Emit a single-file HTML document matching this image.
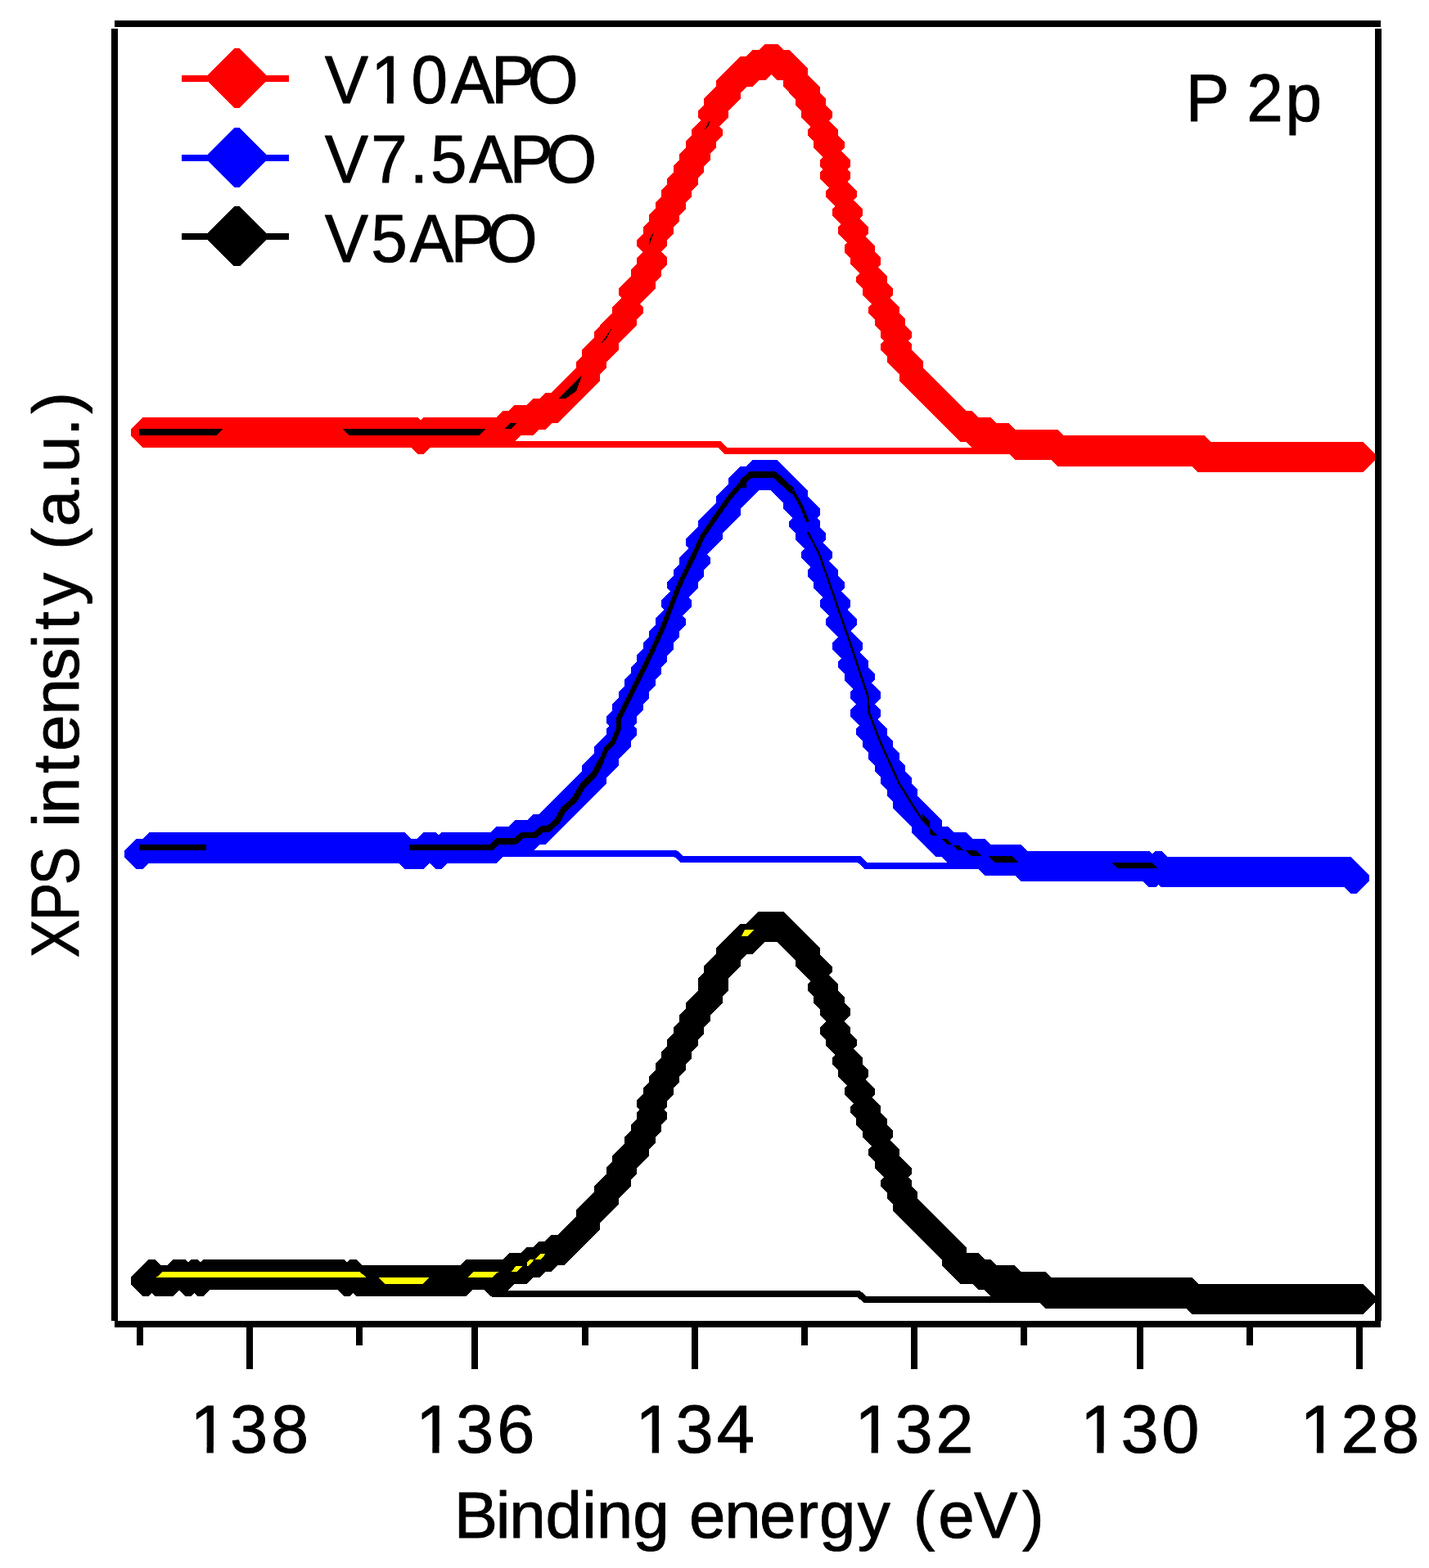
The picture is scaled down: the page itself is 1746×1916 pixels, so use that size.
<!DOCTYPE html>
<html lang="en"><head><meta charset="utf-8"><title>P 2p XPS spectra</title>
<style>html,body{margin:0;padding:0;background:#fff}body{width:1746px;height:1916px;overflow:hidden}svg{display:block}</style></head>
<body>
<svg width="1746" height="1916" viewBox="0 0 1746 1916" shape-rendering="crispEdges" role="img" aria-label="P 2p XPS spectra">
<rect x="0" y="0" width="1746" height="1916" fill="#fff"/>
<polyline points="587,543.3 879,543.3 887,551.2 1235,551.2" fill="none" stroke="#f00" stroke-width="8" stroke-linejoin="miter"/>
<polyline points="600,1042.7 825,1042.7 834,1050.4 1050,1050.4 1058,1058.1 1260,1058.1" fill="none" stroke="#00f" stroke-width="8" stroke-linejoin="miter"/>
<polyline points="601,1580.8 1049,1580.8 1057,1588 1290,1588" fill="none" stroke="#000" stroke-width="8" stroke-linejoin="miter"/>
<path d="M174.46 509.86L182.06 509.86L196.91 524.71L196.91 532.31L182.06 547.16L174.46 547.16L159.61 532.31L159.61 524.71ZM181.91 509.86L189.51 509.86L204.36 524.71L204.36 532.31L189.51 547.16L181.91 547.16L167.06 532.31L167.06 524.71ZM189.36 509.86L196.97 509.86L211.81 524.71L211.81 532.31L196.97 547.16L189.36 547.16L174.51 532.31L174.51 524.71ZM196.82 509.86L204.42 509.86L219.27 524.71L219.27 532.31L204.42 547.16L196.82 547.16L181.97 532.31L181.97 524.71ZM204.27 509.86L211.87 509.86L226.72 524.71L226.72 532.31L211.87 547.16L204.27 547.16L189.42 532.31L189.42 524.71ZM211.72 509.86L219.32 509.86L234.17 524.71L234.17 532.31L219.32 547.16L211.72 547.16L196.87 532.31L196.87 524.71ZM219.17 509.86L226.78 509.86L241.62 524.71L241.62 532.31L226.78 547.16L219.17 547.16L204.32 532.31L204.32 524.71ZM226.63 509.86L234.23 509.86L249.08 524.71L249.08 532.31L234.23 547.16L226.63 547.16L211.78 532.31L211.78 524.71ZM234.08 509.86L241.68 509.86L256.53 524.71L256.53 532.31L241.68 547.16L234.08 547.16L219.23 532.31L219.23 524.71ZM241.53 509.86L249.13 509.86L263.98 524.71L263.98 532.31L249.13 547.16L241.53 547.16L226.68 532.31L226.68 524.71ZM248.98 509.86L256.58 509.86L271.44 524.71L271.44 532.31L256.58 547.16L248.98 547.16L234.13 532.31L234.13 524.71ZM256.44 509.86L264.04 509.86L278.89 524.71L278.89 532.31L264.04 547.16L256.44 547.16L241.59 532.31L241.59 524.71ZM263.89 509.86L271.49 509.86L286.34 524.71L286.34 532.31L271.49 547.16L263.89 547.16L249.04 532.31L249.04 524.71ZM271.34 509.86L278.94 509.86L293.79 524.71L293.79 532.31L278.94 547.16L271.34 547.16L256.49 532.31L256.49 524.71ZM278.79 509.86L286.39 509.86L301.24 524.71L301.24 532.31L286.39 547.16L278.79 547.16L263.94 532.31L263.94 524.71ZM286.25 509.86L293.85 509.86L308.7 524.71L308.7 532.31L293.85 547.16L286.25 547.16L271.4 532.31L271.4 524.71ZM293.7 509.86L301.3 509.86L316.15 524.71L316.15 532.31L301.3 547.16L293.7 547.16L278.85 532.31L278.85 524.71ZM301.15 509.86L308.75 509.86L323.6 524.71L323.6 532.31L308.75 547.16L301.15 547.16L286.3 532.31L286.3 524.71ZM308.6 509.86L316.2 509.86L331.05 524.71L331.05 532.31L316.2 547.16L308.6 547.16L293.75 532.31L293.75 524.71ZM316.06 509.86L323.66 509.86L338.51 524.71L338.51 532.31L323.66 547.16L316.06 547.16L301.21 532.31L301.21 524.71ZM323.51 509.86L331.11 509.86L345.96 524.71L345.96 532.31L331.11 547.16L323.51 547.16L308.66 532.31L308.66 524.71ZM330.96 509.86L338.56 509.86L353.41 524.71L353.41 532.31L338.56 547.16L330.96 547.16L316.11 532.31L316.11 524.71ZM338.41 509.86L346.01 509.86L360.86 524.71L360.86 532.31L346.01 547.16L338.41 547.16L323.56 532.31L323.56 524.71ZM345.87 509.86L353.47 509.86L368.32 524.71L368.32 532.31L353.47 547.16L345.87 547.16L331.02 532.31L331.02 524.71ZM353.32 509.86L360.92 509.86L375.77 524.71L375.77 532.31L360.92 547.16L353.32 547.16L338.47 532.31L338.47 524.71ZM360.77 509.86L368.37 509.86L383.22 524.71L383.22 532.31L368.37 547.16L360.77 547.16L345.92 532.31L345.92 524.71ZM368.22 509.86L375.82 509.86L390.67 524.71L390.67 532.31L375.82 547.16L368.22 547.16L353.38 532.31L353.38 524.71ZM375.68 509.86L383.28 509.86L398.13 524.71L398.13 532.31L383.28 547.16L375.68 547.16L360.83 532.31L360.83 524.71ZM383.13 509.86L390.73 509.86L405.58 524.71L405.58 532.31L390.73 547.16L383.13 547.16L368.28 532.31L368.28 524.71ZM390.58 509.86L398.18 509.86L413.03 524.71L413.03 532.31L398.18 547.16L390.58 547.16L375.73 532.31L375.73 524.71ZM398.03 509.86L405.63 509.86L420.48 524.71L420.48 532.31L405.63 547.16L398.03 547.16L383.19 532.31L383.19 524.71ZM405.49 509.86L413.09 509.86L427.94 524.71L427.94 532.31L413.09 547.16L405.49 547.16L390.64 532.31L390.64 524.71ZM412.94 509.86L420.54 509.86L435.39 524.71L435.39 532.31L420.54 547.16L412.94 547.16L398.09 532.31L398.09 524.71ZM420.39 509.86L427.99 509.86L442.84 524.71L442.84 532.31L427.99 547.16L420.39 547.16L405.54 532.31L405.54 524.71ZM427.84 509.86L435.44 509.86L450.29 524.71L450.29 532.31L435.44 547.16L427.84 547.16L413 532.31L413 524.71ZM435.3 509.86L442.9 509.86L457.75 524.71L457.75 532.31L442.9 547.16L435.3 547.16L420.45 532.31L420.45 524.71ZM442.75 509.86L450.35 509.86L465.2 524.71L465.2 532.31L450.35 547.16L442.75 547.16L427.9 532.31L427.9 524.71ZM450.2 509.86L457.8 509.86L472.65 524.71L472.65 532.31L457.8 547.16L450.2 547.16L435.35 532.31L435.35 524.71ZM457.65 509.86L465.25 509.86L480.1 524.71L480.1 532.31L465.25 547.16L457.65 547.16L442.81 532.31L442.81 524.71ZM465.11 509.86L472.71 509.86L487.56 524.71L487.56 532.31L472.71 547.16L465.11 547.16L450.26 532.31L450.26 524.71ZM472.56 509.86L480.16 509.86L495.01 524.71L495.01 532.31L480.16 547.16L472.56 547.16L457.71 532.31L457.71 524.71ZM480.01 509.86L487.61 509.86L502.46 524.71L502.46 532.31L487.61 547.16L480.01 547.16L465.16 532.31L465.16 524.71ZM487.46 509.86L495.06 509.86L509.91 524.71L509.91 532.31L495.06 547.16L487.46 547.16L472.61 532.31L472.61 524.71ZM494.92 509.86L502.52 509.86L517.37 524.71L517.37 532.31L502.52 547.16L494.92 547.16L480.07 532.31L480.07 524.71ZM502.37 509.86L509.97 509.86L524.82 524.71L524.82 532.31L509.97 547.16L502.37 547.16L487.52 532.31L487.52 524.71ZM509.82 517.32L517.42 517.32L532.27 532.17L532.27 539.77L517.42 554.62L509.82 554.62L494.97 539.77L494.97 532.17ZM517.27 509.86L524.87 509.86L539.72 524.71L539.72 532.31L524.87 547.16L517.27 547.16L502.42 532.31L502.42 524.71ZM524.73 509.86L532.33 509.86L547.18 524.71L547.18 532.31L532.33 547.16L524.73 547.16L509.88 532.31L509.88 524.71ZM532.18 509.86L539.78 509.86L554.63 524.71L554.63 532.31L539.78 547.16L532.18 547.16L517.33 532.31L517.33 524.71ZM539.63 509.86L547.23 509.86L562.08 524.71L562.08 532.31L547.23 547.16L539.63 547.16L524.78 532.31L524.78 524.71ZM547.09 509.86L554.68 509.86L569.53 524.71L569.53 532.31L554.68 547.16L547.09 547.16L532.24 532.31L532.24 524.71ZM554.54 509.86L562.14 509.86L576.99 524.71L576.99 532.31L562.14 547.16L554.54 547.16L539.69 532.31L539.69 524.71ZM561.99 509.86L569.59 509.86L584.44 524.71L584.44 532.31L569.59 547.16L561.99 547.16L547.14 532.31L547.14 524.71ZM569.44 509.86L577.04 509.86L591.89 524.71L591.89 532.31L577.04 547.16L569.44 547.16L554.59 532.31L554.59 524.71ZM576.89 509.86L584.49 509.86L599.34 524.71L599.34 532.31L584.49 547.16L576.89 547.16L562.04 532.31L562.04 524.71ZM584.35 509.86L591.95 509.86L606.8 524.71L606.8 532.31L591.95 547.16L584.35 547.16L569.5 532.31L569.5 524.71ZM591.8 509.86L599.4 509.86L614.25 524.71L614.25 532.31L599.4 547.16L591.8 547.16L576.95 532.31L576.95 524.71ZM599.25 509.86L606.85 509.86L621.7 524.71L621.7 532.31L606.85 547.16L599.25 547.16L584.4 532.31L584.4 524.71ZM606.71 509.86L614.3 509.86L629.15 524.71L629.15 532.31L614.3 547.16L606.71 547.16L591.86 532.31L591.86 524.71ZM614.16 502.38L621.76 502.38L636.61 517.23L636.61 524.83L621.76 539.68L614.16 539.68L599.31 524.83L599.31 517.23ZM621.61 502.38L629.21 502.38L644.06 517.23L644.06 524.83L629.21 539.68L621.61 539.68L606.76 524.83L606.76 517.23ZM629.06 494.9L636.66 494.9L651.51 509.75L651.51 517.35L636.66 532.2L629.06 532.2L614.21 517.35L614.21 509.75ZM636.51 494.9L644.11 494.9L658.96 509.75L658.96 517.35L644.11 532.2L636.51 532.2L621.66 517.35L621.66 509.75ZM643.97 494.9L651.57 494.9L666.42 509.75L666.42 517.35L651.57 532.2L643.97 532.2L629.12 517.35L629.12 509.75ZM651.42 487.42L659.02 487.42L673.87 502.27L673.87 509.87L659.02 524.72L651.42 524.72L636.57 509.87L636.57 502.27ZM658.87 487.42L666.47 487.42L681.32 502.27L681.32 509.87L666.47 524.72L658.87 524.72L644.02 509.87L644.02 502.27ZM666.33 479.94L673.92 479.94L688.77 494.79L688.77 502.39L673.92 517.24L666.33 517.24L651.48 502.39L651.48 494.79ZM673.78 479.94L681.38 479.94L696.23 494.79L696.23 502.39L681.38 517.24L673.78 517.24L658.93 502.39L658.93 494.79ZM681.23 472.46L688.83 472.46L703.68 487.31L703.68 494.91L688.83 509.76L681.23 509.76L666.38 494.91L666.38 487.31ZM688.68 464.98L696.28 464.98L711.13 479.83L711.13 487.43L696.28 502.28L688.68 502.28L673.83 487.43L673.83 479.83ZM696.13 457.51L703.73 457.51L718.58 472.36L718.58 479.96L703.73 494.81L696.13 494.81L681.28 479.96L681.28 472.36ZM703.59 450.03L711.19 450.03L726.04 464.88L726.04 472.48L711.19 487.33L703.59 487.33L688.74 472.48L688.74 464.88ZM711.04 442.55L718.64 442.55L733.49 457.4L733.49 465L718.64 479.85L711.04 479.85L696.19 465L696.19 457.4ZM718.49 427.59L726.09 427.59L740.94 442.44L740.94 450.04L726.09 464.89L718.49 464.89L703.64 450.04L703.64 442.44ZM725.94 412.63L733.54 412.63L748.39 427.48L748.39 435.08L733.54 449.93L725.94 449.93L711.09 435.08L711.09 427.48ZM733.4 405.15L741 405.15L755.85 420L755.85 427.6L741 442.45L733.4 442.45L718.55 427.6L718.55 420ZM740.85 390.2L748.45 390.2L763.3 405.05L763.3 412.65L748.45 427.5L740.85 427.5L726 412.65L726 405.05ZM748.3 382.72L755.9 382.72L770.75 397.57L770.75 405.17L755.9 420.02L748.3 420.02L733.45 405.17L733.45 397.57ZM755.75 375.24L763.35 375.24L778.2 390.09L778.2 397.69L763.35 412.54L755.75 412.54L740.9 397.69L740.9 390.09ZM763.21 360.28L770.81 360.28L785.66 375.13L785.66 382.73L770.81 397.58L763.21 397.58L748.36 382.73L748.36 375.13ZM770.66 337.84L778.26 337.84L793.11 352.69L793.11 360.29L778.26 375.14L770.66 375.14L755.81 360.29L755.81 352.69ZM778.11 330.36L785.71 330.36L800.56 345.21L800.56 352.81L785.71 367.66L778.11 367.66L763.26 352.81L763.26 345.21ZM785.56 315.41L793.16 315.41L808.01 330.26L808.01 337.86L793.16 352.71L785.56 352.71L770.71 337.86L770.71 330.26ZM793.02 300.45L800.62 300.45L815.47 315.3L815.47 322.9L800.62 337.75L793.02 337.75L778.17 322.9L778.17 315.3ZM793.02 278.01L800.62 278.01L815.47 292.86L815.47 300.46L800.62 315.31L793.02 315.31L778.17 300.46L778.17 292.86ZM800.47 263.05L808.07 263.05L822.92 277.9L822.92 285.5L808.07 300.35L800.47 300.35L785.62 285.5L785.62 277.9ZM807.92 248.1L815.52 248.1L830.37 262.95L830.37 270.55L815.52 285.4L807.92 285.4L793.07 270.55L793.07 262.95ZM815.38 233.14L822.97 233.14L837.82 247.99L837.82 255.59L822.97 270.44L815.38 270.44L800.52 255.59L800.52 247.99ZM822.83 218.18L830.43 218.18L845.28 233.03L845.28 240.63L830.43 255.48L822.83 255.48L807.98 240.63L807.98 233.03ZM830.28 203.22L837.88 203.22L852.73 218.07L852.73 225.67L837.88 240.52L830.28 240.52L815.43 225.67L815.43 218.07ZM837.73 188.27L845.33 188.27L860.18 203.12L860.18 210.72L845.33 225.57L837.73 225.57L822.88 210.72L822.88 203.12ZM845.18 173.31L852.78 173.31L867.63 188.16L867.63 195.76L852.78 210.61L845.18 210.61L830.33 195.76L830.33 188.16ZM852.64 158.35L860.24 158.35L875.09 173.2L875.09 180.8L860.24 195.65L852.64 195.65L837.79 180.8L837.79 173.2ZM860.09 143.39L867.69 143.39L882.54 158.24L882.54 165.84L867.69 180.69L860.09 180.69L845.24 165.84L845.24 158.24ZM867.54 120.96L875.14 120.96L889.99 135.81L889.99 143.41L875.14 158.26L867.54 158.26L852.69 143.41L852.69 135.81ZM875 106L882.59 106L897.44 120.85L897.44 128.45L882.59 143.3L875 143.3L860.14 128.45L860.14 120.85ZM882.45 98.52L890.05 98.52L904.9 113.37L904.9 120.97L890.05 135.82L882.45 135.82L867.6 120.97L867.6 113.37ZM889.9 83.56L897.5 83.56L912.35 98.41L912.35 106.01L897.5 120.86L889.9 120.86L875.05 106.01L875.05 98.41ZM897.35 76.08L904.95 76.08L919.8 90.93L919.8 98.53L904.95 113.38L897.35 113.38L882.5 98.53L882.5 90.93ZM904.8 68.6L912.4 68.6L927.25 83.45L927.25 91.05L912.4 105.9L904.8 105.9L889.95 91.05L889.95 83.45ZM912.26 68.6L919.86 68.6L934.71 83.45L934.71 91.05L919.86 105.9L912.26 105.9L897.41 91.05L897.41 83.45ZM919.71 61.12L927.31 61.12L942.16 75.97L942.16 83.57L927.31 98.42L919.71 98.42L904.86 83.57L904.86 75.97ZM927.16 61.12L934.76 61.12L949.61 75.97L949.61 83.57L934.76 98.42L927.16 98.42L912.31 83.57L912.31 75.97ZM934.62 53.65L942.21 53.65L957.06 68.5L957.06 76.09L942.21 90.94L934.62 90.94L919.76 76.09L919.76 68.5ZM942.07 53.65L949.67 53.65L964.52 68.5L964.52 76.09L949.67 90.94L942.07 90.94L927.22 76.09L927.22 68.5ZM949.52 61.12L957.12 61.12L971.97 75.97L971.97 83.57L957.12 98.42L949.52 98.42L934.67 83.57L934.67 75.97ZM956.97 61.12L964.57 61.12L979.42 75.97L979.42 83.57L964.57 98.42L956.97 98.42L942.12 83.57L942.12 75.97ZM964.42 68.6L972.02 68.6L986.87 83.45L986.87 91.05L972.02 105.9L964.42 105.9L949.57 91.05L949.57 83.45ZM971.88 83.56L979.48 83.56L994.33 98.41L994.33 106.01L979.48 120.86L971.88 120.86L957.03 106.01L957.03 98.41ZM979.33 91.04L986.93 91.04L1001.78 105.89L1001.78 113.49L986.93 128.34L979.33 128.34L964.48 113.49L964.48 105.89ZM986.78 106L994.38 106L1009.23 120.85L1009.23 128.45L994.38 143.3L986.78 143.3L971.93 128.45L971.93 120.85ZM994.24 120.96L1001.83 120.96L1016.68 135.81L1016.68 143.41L1001.83 158.26L994.24 158.26L979.38 143.41L979.38 135.81ZM1001.69 143.39L1009.29 143.39L1024.14 158.24L1024.14 165.84L1009.29 180.69L1001.69 180.69L986.84 165.84L986.84 158.24ZM1009.14 158.35L1016.74 158.35L1031.59 173.2L1031.59 180.8L1016.74 195.65L1009.14 195.65L994.29 180.8L994.29 173.2ZM1016.59 180.79L1024.19 180.79L1039.04 195.64L1039.04 203.24L1024.19 218.09L1016.59 218.09L1001.74 203.24L1001.74 195.64ZM1016.59 195.74L1024.19 195.74L1039.04 210.59L1039.04 218.19L1024.19 233.04L1016.59 233.04L1001.74 218.19L1001.74 210.59ZM1024.05 218.18L1031.64 218.18L1046.5 233.03L1046.5 240.63L1031.64 255.48L1024.05 255.48L1009.2 240.63L1009.2 233.03ZM1031.5 240.62L1039.1 240.62L1053.95 255.47L1053.95 263.07L1039.1 277.92L1031.5 277.92L1016.65 263.07L1016.65 255.47ZM1038.95 263.05L1046.55 263.05L1061.4 277.9L1061.4 285.5L1046.55 300.35L1038.95 300.35L1024.1 285.5L1024.1 277.9ZM1046.4 285.49L1054 285.49L1068.85 300.34L1068.85 307.94L1054 322.79L1046.4 322.79L1031.55 307.94L1031.55 300.34ZM1053.86 300.45L1061.45 300.45L1076.31 315.3L1076.31 322.9L1061.45 337.75L1053.86 337.75L1039 322.9L1039 315.3ZM1061.31 322.89L1068.91 322.89L1083.76 337.74L1083.76 345.34L1068.91 360.19L1061.31 360.19L1046.46 345.34L1046.46 337.74ZM1068.76 337.84L1076.36 337.84L1091.21 352.69L1091.21 360.29L1076.36 375.14L1068.76 375.14L1053.91 360.29L1053.91 352.69ZM1076.21 360.28L1083.81 360.28L1098.66 375.13L1098.66 382.73L1083.81 397.58L1076.21 397.58L1061.36 382.73L1061.36 375.13ZM1083.67 375.24L1091.27 375.24L1106.12 390.09L1106.12 397.69L1091.27 412.54L1083.67 412.54L1068.82 397.69L1068.82 390.09ZM1091.12 390.2L1098.72 390.2L1113.57 405.05L1113.57 412.65L1098.72 427.5L1091.12 427.5L1076.27 412.65L1076.27 405.05ZM1091.12 405.15L1098.72 405.15L1113.57 420L1113.57 427.6L1098.72 442.45L1091.12 442.45L1076.27 427.6L1076.27 420ZM1098.57 420.11L1106.17 420.11L1121.02 434.96L1121.02 442.56L1106.17 457.41L1098.57 457.41L1083.72 442.56L1083.72 434.96ZM1106.02 427.59L1113.62 427.59L1128.47 442.44L1128.47 450.04L1113.62 464.89L1106.02 464.89L1091.17 450.04L1091.17 442.44ZM1113.48 442.55L1121.08 442.55L1135.93 457.4L1135.93 465L1121.08 479.85L1113.48 479.85L1098.62 465L1098.62 457.4ZM1120.93 450.03L1128.53 450.03L1143.38 464.88L1143.38 472.48L1128.53 487.33L1120.93 487.33L1106.08 472.48L1106.08 464.88ZM1128.38 457.51L1135.98 457.51L1150.83 472.36L1150.83 479.96L1135.98 494.81L1128.38 494.81L1113.53 479.96L1113.53 472.36ZM1135.83 464.98L1143.43 464.98L1158.28 479.83L1158.28 487.43L1143.43 502.28L1135.83 502.28L1120.98 487.43L1120.98 479.83ZM1143.29 472.46L1150.88 472.46L1165.74 487.31L1165.74 494.91L1150.88 509.76L1143.29 509.76L1128.43 494.91L1128.43 487.31ZM1150.74 479.94L1158.34 479.94L1173.19 494.79L1173.19 502.39L1158.34 517.24L1150.74 517.24L1135.89 502.39L1135.89 494.79ZM1158.19 487.42L1165.79 487.42L1180.64 502.27L1180.64 509.87L1165.79 524.72L1158.19 524.72L1143.34 509.87L1143.34 502.27ZM1165.64 494.9L1173.24 494.9L1188.09 509.75L1188.09 517.35L1173.24 532.2L1165.64 532.2L1150.79 517.35L1150.79 509.75ZM1173.1 502.38L1180.69 502.38L1195.55 517.23L1195.55 524.83L1180.69 539.68L1173.1 539.68L1158.24 524.83L1158.24 517.23ZM1180.55 502.38L1188.15 502.38L1203 517.23L1203 524.83L1188.15 539.68L1180.55 539.68L1165.7 524.83L1165.7 517.23ZM1188 509.86L1195.6 509.86L1210.45 524.71L1210.45 532.31L1195.6 547.16L1188 547.16L1173.15 532.31L1173.15 524.71ZM1195.45 509.86L1203.05 509.86L1217.9 524.71L1217.9 532.31L1203.05 547.16L1195.45 547.16L1180.6 532.31L1180.6 524.71ZM1202.9 509.86L1210.5 509.86L1225.36 524.71L1225.36 532.31L1210.5 547.16L1202.9 547.16L1188.05 532.31L1188.05 524.71ZM1210.36 517.32L1217.96 517.32L1232.81 532.17L1232.81 539.77L1217.96 554.62L1210.36 554.62L1195.51 539.77L1195.51 532.17ZM1217.81 517.32L1225.41 517.32L1240.26 532.17L1240.26 539.77L1225.41 554.62L1217.81 554.62L1202.96 539.77L1202.96 532.17ZM1225.26 517.32L1232.86 517.32L1247.71 532.17L1247.71 539.77L1232.86 554.62L1225.26 554.62L1210.41 539.77L1210.41 532.17ZM1240.17 524.78L1247.77 524.78L1262.62 539.63L1262.62 547.23L1247.77 562.08L1240.17 562.08L1225.32 547.23L1225.32 539.63ZM1247.62 524.78L1255.22 524.78L1270.07 539.63L1270.07 547.23L1255.22 562.08L1247.62 562.08L1232.77 547.23L1232.77 539.63ZM1255.07 524.78L1262.67 524.78L1277.52 539.63L1277.52 547.23L1262.67 562.08L1255.07 562.08L1240.22 547.23L1240.22 539.63ZM1262.53 524.78L1270.12 524.78L1284.98 539.63L1284.98 547.23L1270.12 562.08L1262.53 562.08L1247.67 547.23L1247.67 539.63ZM1269.98 524.78L1277.58 524.78L1292.43 539.63L1292.43 547.23L1277.58 562.08L1269.98 562.08L1255.13 547.23L1255.13 539.63ZM1277.43 524.78L1285.03 524.78L1299.88 539.63L1299.88 547.23L1285.03 562.08L1277.43 562.08L1262.58 547.23L1262.58 539.63ZM1284.88 524.78L1292.48 524.78L1307.33 539.63L1307.33 547.23L1292.48 562.08L1284.88 562.08L1270.03 547.23L1270.03 539.63ZM1292.34 532.25L1299.93 532.25L1314.79 547.1L1314.79 554.69L1299.93 569.54L1292.34 569.54L1277.48 554.69L1277.48 547.1ZM1299.79 532.25L1307.39 532.25L1322.24 547.1L1322.24 554.69L1307.39 569.54L1299.79 569.54L1284.94 554.69L1284.94 547.1ZM1307.24 532.25L1314.84 532.25L1329.69 547.1L1329.69 554.69L1314.84 569.54L1307.24 569.54L1292.39 554.69L1292.39 547.1ZM1314.69 532.25L1322.29 532.25L1337.14 547.1L1337.14 554.69L1322.29 569.54L1314.69 569.54L1299.84 554.69L1299.84 547.1ZM1322.14 532.25L1329.74 532.25L1344.6 547.1L1344.6 554.69L1329.74 569.54L1322.14 569.54L1307.29 554.69L1307.29 547.1ZM1329.6 532.25L1337.2 532.25L1352.05 547.1L1352.05 554.69L1337.2 569.54L1329.6 569.54L1314.75 554.69L1314.75 547.1ZM1337.05 532.25L1344.65 532.25L1359.5 547.1L1359.5 554.69L1344.65 569.54L1337.05 569.54L1322.2 554.69L1322.2 547.1ZM1344.5 532.25L1352.1 532.25L1366.95 547.1L1366.95 554.69L1352.1 569.54L1344.5 569.54L1329.65 554.69L1329.65 547.1ZM1351.96 532.25L1359.56 532.25L1374.41 547.1L1374.41 554.69L1359.56 569.54L1351.96 569.54L1337.11 554.69L1337.11 547.1ZM1359.41 532.25L1367.01 532.25L1381.86 547.1L1381.86 554.69L1367.01 569.54L1359.41 569.54L1344.56 554.69L1344.56 547.1ZM1366.86 532.25L1374.46 532.25L1389.31 547.1L1389.31 554.69L1374.46 569.54L1366.86 569.54L1352.01 554.69L1352.01 547.1ZM1374.31 532.25L1381.91 532.25L1396.76 547.1L1396.76 554.69L1381.91 569.54L1374.31 569.54L1359.46 554.69L1359.46 547.1ZM1381.77 532.25L1389.37 532.25L1404.22 547.1L1404.22 554.69L1389.37 569.54L1381.77 569.54L1366.91 554.69L1366.91 547.1ZM1389.22 532.25L1396.82 532.25L1411.67 547.1L1411.67 554.69L1396.82 569.54L1389.22 569.54L1374.37 554.69L1374.37 547.1ZM1396.67 532.25L1404.27 532.25L1419.12 547.1L1419.12 554.69L1404.27 569.54L1396.67 569.54L1381.82 554.69L1381.82 547.1ZM1404.12 532.25L1411.72 532.25L1426.57 547.1L1426.57 554.69L1411.72 569.54L1404.12 569.54L1389.27 554.69L1389.27 547.1ZM1411.58 532.25L1419.17 532.25L1434.03 547.1L1434.03 554.69L1419.17 569.54L1411.58 569.54L1396.72 554.69L1396.72 547.1ZM1419.03 532.25L1426.63 532.25L1441.48 547.1L1441.48 554.69L1426.63 569.54L1419.03 569.54L1404.18 554.69L1404.18 547.1ZM1426.48 532.25L1434.08 532.25L1448.93 547.1L1448.93 554.69L1434.08 569.54L1426.48 569.54L1411.63 554.69L1411.63 547.1ZM1433.93 532.25L1441.53 532.25L1456.38 547.1L1456.38 554.69L1441.53 569.54L1433.93 569.54L1419.08 554.69L1419.08 547.1ZM1441.38 532.25L1448.98 532.25L1463.84 547.1L1463.84 554.69L1448.98 569.54L1441.38 569.54L1426.53 554.69L1426.53 547.1ZM1448.84 532.25L1456.44 532.25L1471.29 547.1L1471.29 554.69L1456.44 569.54L1448.84 569.54L1433.99 554.69L1433.99 547.1ZM1456.29 532.25L1463.89 532.25L1478.74 547.1L1478.74 554.69L1463.89 569.54L1456.29 569.54L1441.44 554.69L1441.44 547.1ZM1463.74 532.25L1471.34 532.25L1486.19 547.1L1486.19 554.69L1471.34 569.54L1463.74 569.54L1448.89 554.69L1448.89 547.1ZM1463.74 539.71L1471.34 539.71L1486.19 554.56L1486.19 562.16L1471.34 577.01L1463.74 577.01L1448.89 562.16L1448.89 554.56ZM1471.2 539.71L1478.8 539.71L1493.65 554.56L1493.65 562.16L1478.8 577.01L1471.2 577.01L1456.35 562.16L1456.35 554.56ZM1478.65 539.71L1486.25 539.71L1501.1 554.56L1501.1 562.16L1486.25 577.01L1478.65 577.01L1463.8 562.16L1463.8 554.56ZM1486.1 539.71L1493.7 539.71L1508.55 554.56L1508.55 562.16L1493.7 577.01L1486.1 577.01L1471.25 562.16L1471.25 554.56ZM1493.55 539.71L1501.15 539.71L1516 554.56L1516 562.16L1501.15 577.01L1493.55 577.01L1478.7 562.16L1478.7 554.56ZM1501.01 539.71L1508.61 539.71L1523.46 554.56L1523.46 562.16L1508.61 577.01L1501.01 577.01L1486.15 562.16L1486.15 554.56ZM1508.46 539.71L1516.06 539.71L1530.91 554.56L1530.91 562.16L1516.06 577.01L1508.46 577.01L1493.61 562.16L1493.61 554.56ZM1515.91 539.71L1523.51 539.71L1538.36 554.56L1538.36 562.16L1523.51 577.01L1515.91 577.01L1501.06 562.16L1501.06 554.56ZM1523.36 539.71L1530.96 539.71L1545.81 554.56L1545.81 562.16L1530.96 577.01L1523.36 577.01L1508.51 562.16L1508.51 554.56ZM1530.82 539.71L1538.41 539.71L1553.27 554.56L1553.27 562.16L1538.41 577.01L1530.82 577.01L1515.96 562.16L1515.96 554.56ZM1538.27 539.71L1545.87 539.71L1560.72 554.56L1560.72 562.16L1545.87 577.01L1538.27 577.01L1523.42 562.16L1523.42 554.56ZM1545.72 539.71L1553.32 539.71L1568.17 554.56L1568.17 562.16L1553.32 577.01L1545.72 577.01L1530.87 562.16L1530.87 554.56ZM1553.17 539.71L1560.77 539.71L1575.62 554.56L1575.62 562.16L1560.77 577.01L1553.17 577.01L1538.32 562.16L1538.32 554.56ZM1560.62 539.71L1568.22 539.71L1583.08 554.56L1583.08 562.16L1568.22 577.01L1560.62 577.01L1545.77 562.16L1545.77 554.56ZM1568.08 539.71L1575.68 539.71L1590.53 554.56L1590.53 562.16L1575.68 577.01L1568.08 577.01L1553.23 562.16L1553.23 554.56ZM1575.53 539.71L1583.13 539.71L1597.98 554.56L1597.98 562.16L1583.13 577.01L1575.53 577.01L1560.68 562.16L1560.68 554.56ZM1582.98 539.71L1590.58 539.71L1605.43 554.56L1605.43 562.16L1590.58 577.01L1582.98 577.01L1568.13 562.16L1568.13 554.56ZM1590.44 539.71L1598.04 539.71L1612.89 554.56L1612.89 562.16L1598.04 577.01L1590.44 577.01L1575.59 562.16L1575.59 554.56ZM1597.89 539.71L1605.49 539.71L1620.34 554.56L1620.34 562.16L1605.49 577.01L1597.89 577.01L1583.04 562.16L1583.04 554.56ZM1605.34 539.71L1612.94 539.71L1627.79 554.56L1627.79 562.16L1612.94 577.01L1605.34 577.01L1590.49 562.16L1590.49 554.56ZM1612.79 539.71L1620.39 539.71L1635.24 554.56L1635.24 562.16L1620.39 577.01L1612.79 577.01L1597.94 562.16L1597.94 554.56ZM1620.25 539.71L1627.85 539.71L1642.7 554.56L1642.7 562.16L1627.85 577.01L1620.25 577.01L1605.39 562.16L1605.39 554.56ZM1627.7 539.71L1635.3 539.71L1650.15 554.56L1650.15 562.16L1635.3 577.01L1627.7 577.01L1612.85 562.16L1612.85 554.56ZM1635.15 539.71L1642.75 539.71L1657.6 554.56L1657.6 562.16L1642.75 577.01L1635.15 577.01L1620.3 562.16L1620.3 554.56ZM1642.6 539.71L1650.2 539.71L1665.05 554.56L1665.05 562.16L1650.2 577.01L1642.6 577.01L1627.75 562.16L1627.75 554.56ZM1650.06 539.71L1657.65 539.71L1672.51 554.56L1672.51 562.16L1657.65 577.01L1650.06 577.01L1635.2 562.16L1635.2 554.56ZM1657.51 539.71L1665.11 539.71L1679.96 554.56L1679.96 562.16L1665.11 577.01L1657.51 577.01L1642.66 562.16L1642.66 554.56Z" fill="#f00"/>
<path d="M167.01 1024.77L174.61 1024.77L189.46 1039.62L189.46 1047.22L174.61 1062.07L167.01 1062.07L152.16 1047.22L152.16 1039.62ZM181.91 1017.31L189.51 1017.31L204.36 1032.16L204.36 1039.76L189.51 1054.61L181.91 1054.61L167.06 1039.76L167.06 1032.16ZM189.36 1017.31L196.97 1017.31L211.81 1032.16L211.81 1039.76L196.97 1054.61L189.36 1054.61L174.51 1039.76L174.51 1032.16ZM196.82 1017.31L204.42 1017.31L219.27 1032.16L219.27 1039.76L204.42 1054.61L196.82 1054.61L181.97 1039.76L181.97 1032.16ZM204.27 1017.31L211.87 1017.31L226.72 1032.16L226.72 1039.76L211.87 1054.61L204.27 1054.61L189.42 1039.76L189.42 1032.16ZM211.72 1017.31L219.32 1017.31L234.17 1032.16L234.17 1039.76L219.32 1054.61L211.72 1054.61L196.87 1039.76L196.87 1032.16ZM219.17 1017.31L226.78 1017.31L241.62 1032.16L241.62 1039.76L226.78 1054.61L219.17 1054.61L204.32 1039.76L204.32 1032.16ZM226.63 1017.31L234.23 1017.31L249.08 1032.16L249.08 1039.76L234.23 1054.61L226.63 1054.61L211.78 1039.76L211.78 1032.16ZM234.08 1017.31L241.68 1017.31L256.53 1032.16L256.53 1039.76L241.68 1054.61L234.08 1054.61L219.23 1039.76L219.23 1032.16ZM241.53 1017.31L249.13 1017.31L263.98 1032.16L263.98 1039.76L249.13 1054.61L241.53 1054.61L226.68 1039.76L226.68 1032.16ZM248.98 1017.31L256.58 1017.31L271.44 1032.16L271.44 1039.76L256.58 1054.61L248.98 1054.61L234.13 1039.76L234.13 1032.16ZM256.44 1017.31L264.04 1017.31L278.89 1032.16L278.89 1039.76L264.04 1054.61L256.44 1054.61L241.59 1039.76L241.59 1032.16ZM263.89 1017.31L271.49 1017.31L286.34 1032.16L286.34 1039.76L271.49 1054.61L263.89 1054.61L249.04 1039.76L249.04 1032.16ZM271.34 1017.31L278.94 1017.31L293.79 1032.16L293.79 1039.76L278.94 1054.61L271.34 1054.61L256.49 1039.76L256.49 1032.16ZM278.79 1017.31L286.39 1017.31L301.24 1032.16L301.24 1039.76L286.39 1054.61L278.79 1054.61L263.94 1039.76L263.94 1032.16ZM286.25 1017.31L293.85 1017.31L308.7 1032.16L308.7 1039.76L293.85 1054.61L286.25 1054.61L271.4 1039.76L271.4 1032.16ZM293.7 1017.31L301.3 1017.31L316.15 1032.16L316.15 1039.76L301.3 1054.61L293.7 1054.61L278.85 1039.76L278.85 1032.16ZM301.15 1017.31L308.75 1017.31L323.6 1032.16L323.6 1039.76L308.75 1054.61L301.15 1054.61L286.3 1039.76L286.3 1032.16ZM308.6 1017.31L316.2 1017.31L331.05 1032.16L331.05 1039.76L316.2 1054.61L308.6 1054.61L293.75 1039.76L293.75 1032.16ZM316.06 1017.31L323.66 1017.31L338.51 1032.16L338.51 1039.76L323.66 1054.61L316.06 1054.61L301.21 1039.76L301.21 1032.16ZM323.51 1017.31L331.11 1017.31L345.96 1032.16L345.96 1039.76L331.11 1054.61L323.51 1054.61L308.66 1039.76L308.66 1032.16ZM330.96 1017.31L338.56 1017.31L353.41 1032.16L353.41 1039.76L338.56 1054.61L330.96 1054.61L316.11 1039.76L316.11 1032.16ZM338.41 1017.31L346.01 1017.31L360.86 1032.16L360.86 1039.76L346.01 1054.61L338.41 1054.61L323.56 1039.76L323.56 1032.16ZM345.87 1017.31L353.47 1017.31L368.32 1032.16L368.32 1039.76L353.47 1054.61L345.87 1054.61L331.02 1039.76L331.02 1032.16ZM353.32 1017.31L360.92 1017.31L375.77 1032.16L375.77 1039.76L360.92 1054.61L353.32 1054.61L338.47 1039.76L338.47 1032.16ZM360.77 1017.31L368.37 1017.31L383.22 1032.16L383.22 1039.76L368.37 1054.61L360.77 1054.61L345.92 1039.76L345.92 1032.16ZM368.22 1017.31L375.82 1017.31L390.67 1032.16L390.67 1039.76L375.82 1054.61L368.22 1054.61L353.38 1039.76L353.38 1032.16ZM375.68 1017.31L383.28 1017.31L398.13 1032.16L398.13 1039.76L383.28 1054.61L375.68 1054.61L360.83 1039.76L360.83 1032.16ZM383.13 1017.31L390.73 1017.31L405.58 1032.16L405.58 1039.76L390.73 1054.61L383.13 1054.61L368.28 1039.76L368.28 1032.16ZM390.58 1017.31L398.18 1017.31L413.03 1032.16L413.03 1039.76L398.18 1054.61L390.58 1054.61L375.73 1039.76L375.73 1032.16ZM398.03 1017.31L405.63 1017.31L420.48 1032.16L420.48 1039.76L405.63 1054.61L398.03 1054.61L383.19 1039.76L383.19 1032.16ZM405.49 1017.31L413.09 1017.31L427.94 1032.16L427.94 1039.76L413.09 1054.61L405.49 1054.61L390.64 1039.76L390.64 1032.16ZM412.94 1017.31L420.54 1017.31L435.39 1032.16L435.39 1039.76L420.54 1054.61L412.94 1054.61L398.09 1039.76L398.09 1032.16ZM420.39 1017.31L427.99 1017.31L442.84 1032.16L442.84 1039.76L427.99 1054.61L420.39 1054.61L405.54 1039.76L405.54 1032.16ZM427.84 1017.31L435.44 1017.31L450.29 1032.16L450.29 1039.76L435.44 1054.61L427.84 1054.61L413 1039.76L413 1032.16ZM435.3 1017.31L442.9 1017.31L457.75 1032.16L457.75 1039.76L442.9 1054.61L435.3 1054.61L420.45 1039.76L420.45 1032.16ZM442.75 1017.31L450.35 1017.31L465.2 1032.16L465.2 1039.76L450.35 1054.61L442.75 1054.61L427.9 1039.76L427.9 1032.16ZM450.2 1017.31L457.8 1017.31L472.65 1032.16L472.65 1039.76L457.8 1054.61L450.2 1054.61L435.35 1039.76L435.35 1032.16ZM457.65 1017.31L465.25 1017.31L480.1 1032.16L480.1 1039.76L465.25 1054.61L457.65 1054.61L442.81 1039.76L442.81 1032.16ZM465.11 1017.31L472.71 1017.31L487.56 1032.16L487.56 1039.76L472.71 1054.61L465.11 1054.61L450.26 1039.76L450.26 1032.16ZM472.56 1017.31L480.16 1017.31L495.01 1032.16L495.01 1039.76L480.16 1054.61L472.56 1054.61L457.71 1039.76L457.71 1032.16ZM480.01 1017.31L487.61 1017.31L502.46 1032.16L502.46 1039.76L487.61 1054.61L480.01 1054.61L465.16 1039.76L465.16 1032.16ZM487.46 1017.31L495.06 1017.31L509.91 1032.16L509.91 1039.76L495.06 1054.61L487.46 1054.61L472.61 1039.76L472.61 1032.16ZM494.92 1024.77L502.52 1024.77L517.37 1039.62L517.37 1047.22L502.52 1062.07L494.92 1062.07L480.07 1047.22L480.07 1039.62ZM502.37 1024.77L509.97 1024.77L524.82 1039.62L524.82 1047.22L509.97 1062.07L502.37 1062.07L487.52 1047.22L487.52 1039.62ZM509.82 1024.77L517.42 1024.77L532.27 1039.62L532.27 1047.22L517.42 1062.07L509.82 1062.07L494.97 1047.22L494.97 1039.62ZM517.27 1017.31L524.87 1017.31L539.72 1032.16L539.72 1039.76L524.87 1054.61L517.27 1054.61L502.42 1039.76L502.42 1032.16ZM524.73 1017.31L532.33 1017.31L547.18 1032.16L547.18 1039.76L532.33 1054.61L524.73 1054.61L509.88 1039.76L509.88 1032.16ZM532.18 1024.77L539.78 1024.77L554.63 1039.62L554.63 1047.22L539.78 1062.07L532.18 1062.07L517.33 1047.22L517.33 1039.62ZM539.63 1017.31L547.23 1017.31L562.08 1032.16L562.08 1039.76L547.23 1054.61L539.63 1054.61L524.78 1039.76L524.78 1032.16ZM547.09 1017.31L554.68 1017.31L569.53 1032.16L569.53 1039.76L554.68 1054.61L547.09 1054.61L532.24 1039.76L532.24 1032.16ZM554.54 1017.31L562.14 1017.31L576.99 1032.16L576.99 1039.76L562.14 1054.61L554.54 1054.61L539.69 1039.76L539.69 1032.16ZM561.99 1017.31L569.59 1017.31L584.44 1032.16L584.44 1039.76L569.59 1054.61L561.99 1054.61L547.14 1039.76L547.14 1032.16ZM569.44 1017.31L577.04 1017.31L591.89 1032.16L591.89 1039.76L577.04 1054.61L569.44 1054.61L554.59 1039.76L554.59 1032.16ZM576.89 1017.31L584.49 1017.31L599.34 1032.16L599.34 1039.76L584.49 1054.61L576.89 1054.61L562.04 1039.76L562.04 1032.16ZM584.35 1017.31L591.95 1017.31L606.8 1032.16L606.8 1039.76L591.95 1054.61L584.35 1054.61L569.5 1039.76L569.5 1032.16ZM591.8 1017.31L599.4 1017.31L614.25 1032.16L614.25 1039.76L599.4 1054.61L591.8 1054.61L576.95 1039.76L576.95 1032.16ZM599.25 1017.31L606.85 1017.31L621.7 1032.16L621.7 1039.76L606.85 1054.61L599.25 1054.61L584.4 1039.76L584.4 1032.16ZM606.71 1009.85L614.3 1009.85L629.15 1024.7L629.15 1032.3L614.3 1047.15L606.71 1047.15L591.86 1032.3L591.86 1024.7ZM614.16 1009.85L621.76 1009.85L636.61 1024.7L636.61 1032.3L621.76 1047.15L614.16 1047.15L599.31 1032.3L599.31 1024.7ZM621.61 1009.85L629.21 1009.85L644.06 1024.7L644.06 1032.3L629.21 1047.15L621.61 1047.15L606.76 1032.3L606.76 1024.7ZM629.06 1002.38L636.66 1002.38L651.51 1017.23L651.51 1024.83L636.66 1039.68L629.06 1039.68L614.21 1024.83L614.21 1017.23ZM636.51 1002.38L644.11 1002.38L658.96 1017.23L658.96 1024.83L644.11 1039.68L636.51 1039.68L621.66 1024.83L621.66 1017.23ZM643.97 1002.38L651.57 1002.38L666.42 1017.23L666.42 1024.83L651.57 1039.68L643.97 1039.68L629.12 1024.83L629.12 1017.23ZM651.42 994.92L659.02 994.92L673.87 1009.77L673.87 1017.37L659.02 1032.22L651.42 1032.22L636.57 1017.37L636.57 1009.77ZM658.87 994.92L666.47 994.92L681.32 1009.77L681.32 1017.37L666.47 1032.22L658.87 1032.22L644.02 1017.37L644.02 1009.77ZM666.33 987.46L673.92 987.46L688.77 1002.31L688.77 1009.91L673.92 1024.76L666.33 1024.76L651.48 1009.91L651.48 1002.31ZM673.78 980L681.38 980L696.23 994.85L696.23 1002.44L681.38 1017.29L673.78 1017.29L658.93 1002.44L658.93 994.85ZM681.23 972.53L688.83 972.53L703.68 987.38L703.68 994.98L688.83 1009.83L681.23 1009.83L666.38 994.98L666.38 987.38ZM688.68 965.07L696.28 965.07L711.13 979.92L711.13 987.52L696.28 1002.37L688.68 1002.37L673.83 987.52L673.83 979.92ZM696.13 957.61L703.73 957.61L718.58 972.46L718.58 980.06L703.73 994.91L696.13 994.91L681.28 980.06L681.28 972.46ZM703.59 950.14L711.19 950.14L726.04 965L726.04 972.59L711.19 987.44L703.59 987.44L688.74 972.59L688.74 965ZM711.04 942.68L718.64 942.68L733.49 957.53L733.49 965.13L718.64 979.98L711.04 979.98L696.19 965.13L696.19 957.53ZM718.49 935.22L726.09 935.22L740.94 950.07L740.94 957.67L726.09 972.52L718.49 972.52L703.64 957.67L703.64 950.07ZM725.94 920.3L733.54 920.3L748.39 935.15L748.39 942.75L733.54 957.6L725.94 957.6L711.09 942.75L711.09 935.15ZM733.4 912.83L741 912.83L755.85 927.68L755.85 935.28L741 950.13L733.4 950.13L718.55 935.28L718.55 927.68ZM740.85 897.91L748.45 897.91L763.3 912.76L763.3 920.36L748.45 935.21L740.85 935.21L726 920.36L726 912.76ZM748.3 890.45L755.9 890.45L770.75 905.3L770.75 912.89L755.9 927.75L748.3 927.75L733.45 912.89L733.45 905.3ZM755.75 875.52L763.35 875.52L778.2 890.37L778.2 897.97L763.35 912.82L755.75 912.82L740.9 897.97L740.9 890.37ZM755.75 860.6L763.35 860.6L778.2 875.45L778.2 883.04L763.35 897.89L755.75 897.89L740.9 883.04L740.9 875.45ZM763.21 845.67L770.81 845.67L785.66 860.52L785.66 868.12L770.81 882.97L763.21 882.97L748.36 868.12L748.36 860.52ZM770.66 830.75L778.26 830.75L793.11 845.6L793.11 853.19L778.26 868.04L770.66 868.04L755.81 853.19L755.81 845.6ZM778.11 815.82L785.71 815.82L800.56 830.67L800.56 838.27L785.71 853.12L778.11 853.12L763.26 838.27L763.26 830.67ZM785.56 800.89L793.16 800.89L808.01 815.75L808.01 823.34L793.16 838.19L785.56 838.19L770.71 823.34L770.71 815.75ZM793.02 785.97L800.62 785.97L815.47 800.82L815.47 808.42L800.62 823.27L793.02 823.27L778.17 808.42L778.17 800.82ZM800.47 771.05L808.07 771.05L822.92 785.9L822.92 793.5L808.07 808.35L800.47 808.35L785.62 793.5L785.62 785.9ZM807.92 756.12L815.52 756.12L830.37 770.97L830.37 778.57L815.52 793.42L807.92 793.42L793.07 778.57L793.07 770.97ZM815.38 741.2L822.97 741.2L837.82 756.05L837.82 763.64L822.97 778.5L815.38 778.5L800.52 763.64L800.52 756.05ZM822.83 718.81L830.43 718.81L845.28 733.66L845.28 741.26L830.43 756.11L822.83 756.11L807.98 741.26L807.98 733.66ZM830.28 696.42L837.88 696.42L852.73 711.27L852.73 718.87L837.88 733.72L830.28 733.72L815.43 718.87L815.43 711.27ZM837.73 681.5L845.33 681.5L860.18 696.35L860.18 703.94L845.33 718.79L837.73 718.79L822.88 703.94L822.88 696.35ZM845.18 666.57L852.78 666.57L867.63 681.42L867.63 689.02L852.78 703.87L845.18 703.87L830.33 689.02L830.33 681.42ZM852.64 644.18L860.24 644.18L875.09 659.03L875.09 666.63L860.24 681.48L852.64 681.48L837.79 666.63L837.79 659.03ZM860.09 636.72L867.69 636.72L882.54 651.57L882.54 659.17L867.69 674.02L860.09 674.02L845.24 659.17L845.24 651.57ZM867.54 621.79L875.14 621.79L889.99 636.64L889.99 644.24L875.14 659.09L867.54 659.09L852.69 644.24L852.69 636.64ZM875 614.33L882.59 614.33L897.44 629.18L897.44 636.78L882.59 651.63L875 651.63L860.14 636.78L860.14 629.18ZM882.45 606.87L890.05 606.87L904.9 621.72L904.9 629.32L890.05 644.17L882.45 644.17L867.6 629.32L867.6 621.72ZM889.9 591.95L897.5 591.95L912.35 606.8L912.35 614.39L897.5 629.25L889.9 629.25L875.05 614.39L875.05 606.8ZM897.35 584.48L904.95 584.48L919.8 599.33L919.8 606.93L904.95 621.78L897.35 621.78L882.5 606.93L882.5 599.33ZM904.8 569.56L912.4 569.56L927.25 584.41L927.25 592.01L912.4 606.86L904.8 606.86L889.95 592.01L889.95 584.41ZM912.26 569.56L919.86 569.56L934.71 584.41L934.71 592.01L919.86 606.86L912.26 606.86L897.41 592.01L897.41 584.41ZM919.71 562.1L927.31 562.1L942.16 576.95L942.16 584.54L927.31 599.39L919.71 599.39L904.86 584.54L904.86 576.95ZM927.16 562.1L934.76 562.1L949.61 576.95L949.61 584.54L934.76 599.39L927.16 599.39L912.31 584.54L912.31 576.95ZM934.62 562.1L942.21 562.1L957.06 576.95L957.06 584.54L942.21 599.39L934.62 599.39L919.76 584.54L919.76 576.95ZM942.07 562.1L949.67 562.1L964.52 576.95L964.52 584.54L949.67 599.39L942.07 599.39L927.22 584.54L927.22 576.95ZM949.52 569.56L957.12 569.56L971.97 584.41L971.97 592.01L957.12 606.86L949.52 606.86L934.67 592.01L934.67 584.41ZM956.97 577.02L964.57 577.02L979.42 591.87L979.42 599.47L964.57 614.32L956.97 614.32L942.12 599.47L942.12 591.87ZM964.42 584.48L972.02 584.48L986.87 599.33L986.87 606.93L972.02 621.78L964.42 621.78L949.57 606.93L949.57 599.33ZM971.88 599.41L979.48 599.41L994.33 614.26L994.33 621.86L979.48 636.71L971.88 636.71L957.03 621.86L957.03 614.26ZM979.33 606.87L986.93 606.87L1001.78 621.72L1001.78 629.32L986.93 644.17L979.33 644.17L964.48 629.32L964.48 621.72ZM979.33 621.79L986.93 621.79L1001.78 636.64L1001.78 644.24L986.93 659.09L979.33 659.09L964.48 644.24L964.48 636.64ZM986.78 636.72L994.38 636.72L1009.23 651.57L1009.23 659.17L994.38 674.02L986.78 674.02L971.93 659.17L971.93 651.57ZM994.24 659.11L1001.83 659.11L1016.68 673.96L1016.68 681.56L1001.83 696.41L994.24 696.41L979.38 681.56L979.38 673.96ZM1001.69 681.5L1009.29 681.5L1024.14 696.35L1024.14 703.94L1009.29 718.79L1001.69 718.79L986.84 703.94L986.84 696.35ZM1009.14 696.42L1016.74 696.42L1031.59 711.27L1031.59 718.87L1016.74 733.72L1009.14 733.72L994.29 718.87L994.29 711.27ZM1016.59 718.81L1024.19 718.81L1039.04 733.66L1039.04 741.26L1024.19 756.11L1016.59 756.11L1001.74 741.26L1001.74 733.66ZM1024.05 741.2L1031.64 741.2L1046.5 756.05L1046.5 763.64L1031.64 778.5L1024.05 778.5L1009.2 763.64L1009.2 756.05ZM1031.5 771.05L1039.1 771.05L1053.95 785.9L1053.95 793.5L1039.1 808.35L1031.5 808.35L1016.65 793.5L1016.65 785.9ZM1038.95 793.43L1046.55 793.43L1061.4 808.28L1061.4 815.88L1046.55 830.73L1038.95 830.73L1024.1 815.88L1024.1 808.28ZM1046.4 808.36L1054 808.36L1068.85 823.21L1068.85 830.81L1054 845.66L1046.4 845.66L1031.55 830.81L1031.55 823.21ZM1053.86 830.75L1061.45 830.75L1076.31 845.6L1076.31 853.19L1061.45 868.04L1053.86 868.04L1039 853.19L1039 845.6ZM1053.86 853.13L1061.45 853.13L1076.31 867.98L1076.31 875.58L1061.45 890.43L1053.86 890.43L1039 875.58L1039 867.98ZM1061.31 875.52L1068.91 875.52L1083.76 890.37L1083.76 897.97L1068.91 912.82L1061.31 912.82L1046.46 897.97L1046.46 890.37ZM1068.76 890.45L1076.36 890.45L1091.21 905.3L1091.21 912.89L1076.36 927.75L1068.76 927.75L1053.91 912.89L1053.91 905.3ZM1076.21 905.37L1083.81 905.37L1098.66 920.22L1098.66 927.82L1083.81 942.67L1076.21 942.67L1061.36 927.82L1061.36 920.22ZM1083.67 920.3L1091.27 920.3L1106.12 935.15L1106.12 942.75L1091.27 957.6L1083.67 957.6L1068.82 942.75L1068.82 935.15ZM1091.12 935.22L1098.72 935.22L1113.57 950.07L1113.57 957.67L1098.72 972.52L1091.12 972.52L1076.27 957.67L1076.27 950.07ZM1098.57 950.14L1106.17 950.14L1121.02 965L1121.02 972.59L1106.17 987.44L1098.57 987.44L1083.72 972.59L1083.72 965ZM1106.02 965.07L1113.62 965.07L1128.47 979.92L1128.47 987.52L1113.62 1002.37L1106.02 1002.37L1091.17 987.52L1091.17 979.92ZM1113.48 972.53L1121.08 972.53L1135.93 987.38L1135.93 994.98L1121.08 1009.83L1113.48 1009.83L1098.62 994.98L1098.62 987.38ZM1120.93 980L1128.53 980L1143.38 994.85L1143.38 1002.44L1128.53 1017.29L1120.93 1017.29L1106.08 1002.44L1106.08 994.85ZM1128.38 987.46L1135.98 987.46L1150.83 1002.31L1150.83 1009.91L1135.98 1024.76L1128.38 1024.76L1113.53 1009.91L1113.53 1002.31ZM1128.38 994.92L1135.98 994.92L1150.83 1009.77L1150.83 1017.37L1135.98 1032.22L1128.38 1032.22L1113.53 1017.37L1113.53 1009.77ZM1135.83 1002.38L1143.43 1002.38L1158.28 1017.23L1158.28 1024.83L1143.43 1039.68L1135.83 1039.68L1120.98 1024.83L1120.98 1017.23ZM1143.29 1009.85L1150.88 1009.85L1165.74 1024.7L1165.74 1032.3L1150.88 1047.15L1143.29 1047.15L1128.43 1032.3L1128.43 1024.7ZM1150.74 1009.85L1158.34 1009.85L1173.19 1024.7L1173.19 1032.3L1158.34 1047.15L1150.74 1047.15L1135.89 1032.3L1135.89 1024.7ZM1158.19 1017.31L1165.79 1017.31L1180.64 1032.16L1180.64 1039.76L1165.79 1054.61L1158.19 1054.61L1143.34 1039.76L1143.34 1032.16ZM1165.64 1017.31L1173.24 1017.31L1188.09 1032.16L1188.09 1039.76L1173.24 1054.61L1165.64 1054.61L1150.79 1039.76L1150.79 1032.16ZM1173.1 1017.31L1180.69 1017.31L1195.55 1032.16L1195.55 1039.76L1180.69 1054.61L1173.1 1054.61L1158.24 1039.76L1158.24 1032.16ZM1180.55 1024.77L1188.15 1024.77L1203 1039.62L1203 1047.22L1188.15 1062.07L1180.55 1062.07L1165.7 1047.22L1165.7 1039.62ZM1188 1024.77L1195.6 1024.77L1210.45 1039.62L1210.45 1047.22L1195.6 1062.07L1188 1062.07L1173.15 1047.22L1173.15 1039.62ZM1195.45 1024.77L1203.05 1024.77L1217.9 1039.62L1217.9 1047.22L1203.05 1062.07L1195.45 1062.07L1180.6 1047.22L1180.6 1039.62ZM1202.9 1032.23L1210.5 1032.23L1225.36 1047.08L1225.36 1054.68L1210.5 1069.53L1202.9 1069.53L1188.05 1054.68L1188.05 1047.08ZM1210.36 1032.23L1217.96 1032.23L1232.81 1047.08L1232.81 1054.68L1217.96 1069.53L1210.36 1069.53L1195.51 1054.68L1195.51 1047.08ZM1217.81 1032.23L1225.41 1032.23L1240.26 1047.08L1240.26 1054.68L1225.41 1069.53L1217.81 1069.53L1202.96 1054.68L1202.96 1047.08ZM1225.26 1032.23L1232.86 1032.23L1247.71 1047.08L1247.71 1054.68L1232.86 1069.53L1225.26 1069.53L1210.41 1054.68L1210.41 1047.08ZM1232.72 1032.23L1240.32 1032.23L1255.17 1047.08L1255.17 1054.68L1240.32 1069.53L1232.72 1069.53L1217.87 1054.68L1217.87 1047.08ZM1240.17 1032.23L1247.77 1032.23L1262.62 1047.08L1262.62 1054.68L1247.77 1069.53L1240.17 1069.53L1225.32 1054.68L1225.32 1047.08ZM1247.62 1039.69L1255.22 1039.69L1270.07 1054.55L1270.07 1062.14L1255.22 1077L1247.62 1077L1232.77 1062.14L1232.77 1054.55ZM1255.07 1039.69L1262.67 1039.69L1277.52 1054.55L1277.52 1062.14L1262.67 1077L1255.07 1077L1240.22 1062.14L1240.22 1054.55ZM1262.53 1039.69L1270.12 1039.69L1284.98 1054.55L1284.98 1062.14L1270.12 1077L1262.53 1077L1247.67 1062.14L1247.67 1054.55ZM1269.98 1039.69L1277.58 1039.69L1292.43 1054.55L1292.43 1062.14L1277.58 1077L1269.98 1077L1255.13 1062.14L1255.13 1054.55ZM1277.43 1039.69L1285.03 1039.69L1299.88 1054.55L1299.88 1062.14L1285.03 1077L1277.43 1077L1262.58 1062.14L1262.58 1054.55ZM1284.88 1039.69L1292.48 1039.69L1307.33 1054.55L1307.33 1062.14L1292.48 1077L1284.88 1077L1270.03 1062.14L1270.03 1054.55ZM1292.34 1039.69L1299.93 1039.69L1314.79 1054.55L1314.79 1062.14L1299.93 1077L1292.34 1077L1277.48 1062.14L1277.48 1054.55ZM1299.79 1039.69L1307.39 1039.69L1322.24 1054.55L1322.24 1062.14L1307.39 1077L1299.79 1077L1284.94 1062.14L1284.94 1054.55ZM1307.24 1039.69L1314.84 1039.69L1329.69 1054.55L1329.69 1062.14L1314.84 1077L1307.24 1077L1292.39 1062.14L1292.39 1054.55ZM1314.69 1039.69L1322.29 1039.69L1337.14 1054.55L1337.14 1062.14L1322.29 1077L1314.69 1077L1299.84 1062.14L1299.84 1054.55ZM1322.14 1039.69L1329.74 1039.69L1344.6 1054.55L1344.6 1062.14L1329.74 1077L1322.14 1077L1307.29 1062.14L1307.29 1054.55ZM1329.6 1039.69L1337.2 1039.69L1352.05 1054.55L1352.05 1062.14L1337.2 1077L1329.6 1077L1314.75 1062.14L1314.75 1054.55ZM1337.05 1039.69L1344.65 1039.69L1359.5 1054.55L1359.5 1062.14L1344.65 1077L1337.05 1077L1322.2 1062.14L1322.2 1054.55ZM1344.5 1039.69L1352.1 1039.69L1366.95 1054.55L1366.95 1062.14L1352.1 1077L1344.5 1077L1329.65 1062.14L1329.65 1054.55ZM1351.96 1039.69L1359.56 1039.69L1374.41 1054.55L1374.41 1062.14L1359.56 1077L1351.96 1077L1337.11 1062.14L1337.11 1054.55ZM1359.41 1039.69L1367.01 1039.69L1381.86 1054.55L1381.86 1062.14L1367.01 1077L1359.41 1077L1344.56 1062.14L1344.56 1054.55ZM1366.86 1039.69L1374.46 1039.69L1389.31 1054.55L1389.31 1062.14L1374.46 1077L1366.86 1077L1352.01 1062.14L1352.01 1054.55ZM1374.31 1039.69L1381.91 1039.69L1396.76 1054.55L1396.76 1062.14L1381.91 1077L1374.31 1077L1359.46 1062.14L1359.46 1054.55ZM1381.77 1039.69L1389.37 1039.69L1404.22 1054.55L1404.22 1062.14L1389.37 1077L1381.77 1077L1366.91 1062.14L1366.91 1054.55ZM1389.22 1039.69L1396.82 1039.69L1411.67 1054.55L1411.67 1062.14L1396.82 1077L1389.22 1077L1374.37 1062.14L1374.37 1054.55ZM1396.67 1039.69L1404.27 1039.69L1419.12 1054.55L1419.12 1062.14L1404.27 1077L1396.67 1077L1381.82 1062.14L1381.82 1054.55ZM1404.12 1047.16L1411.72 1047.16L1426.57 1062.01L1426.57 1069.61L1411.72 1084.46L1404.12 1084.46L1389.27 1069.61L1389.27 1062.01ZM1411.58 1039.69L1419.17 1039.69L1434.03 1054.55L1434.03 1062.14L1419.17 1077L1411.58 1077L1396.72 1062.14L1396.72 1054.55ZM1419.03 1047.16L1426.63 1047.16L1441.48 1062.01L1441.48 1069.61L1426.63 1084.46L1419.03 1084.46L1404.18 1069.61L1404.18 1062.01ZM1426.48 1047.16L1434.08 1047.16L1448.93 1062.01L1448.93 1069.61L1434.08 1084.46L1426.48 1084.46L1411.63 1069.61L1411.63 1062.01ZM1433.93 1047.16L1441.53 1047.16L1456.38 1062.01L1456.38 1069.61L1441.53 1084.46L1433.93 1084.46L1419.08 1069.61L1419.08 1062.01ZM1441.38 1047.16L1448.98 1047.16L1463.84 1062.01L1463.84 1069.61L1448.98 1084.46L1441.38 1084.46L1426.53 1069.61L1426.53 1062.01ZM1448.84 1047.16L1456.44 1047.16L1471.29 1062.01L1471.29 1069.61L1456.44 1084.46L1448.84 1084.46L1433.99 1069.61L1433.99 1062.01ZM1456.29 1047.16L1463.89 1047.16L1478.74 1062.01L1478.74 1069.61L1463.89 1084.46L1456.29 1084.46L1441.44 1069.61L1441.44 1062.01ZM1463.74 1047.16L1471.34 1047.16L1486.19 1062.01L1486.19 1069.61L1471.34 1084.46L1463.74 1084.46L1448.89 1069.61L1448.89 1062.01ZM1471.2 1047.16L1478.8 1047.16L1493.65 1062.01L1493.65 1069.61L1478.8 1084.46L1471.2 1084.46L1456.35 1069.61L1456.35 1062.01ZM1478.65 1047.16L1486.25 1047.16L1501.1 1062.01L1501.1 1069.61L1486.25 1084.46L1478.65 1084.46L1463.8 1069.61L1463.8 1062.01ZM1486.1 1047.16L1493.7 1047.16L1508.55 1062.01L1508.55 1069.61L1493.7 1084.46L1486.1 1084.46L1471.25 1069.61L1471.25 1062.01ZM1493.55 1047.16L1501.15 1047.16L1516 1062.01L1516 1069.61L1501.15 1084.46L1493.55 1084.46L1478.7 1069.61L1478.7 1062.01ZM1501.01 1047.16L1508.61 1047.16L1523.46 1062.01L1523.46 1069.61L1508.61 1084.46L1501.01 1084.46L1486.15 1069.61L1486.15 1062.01ZM1508.46 1047.16L1516.06 1047.16L1530.91 1062.01L1530.91 1069.61L1516.06 1084.46L1508.46 1084.46L1493.61 1069.61L1493.61 1062.01ZM1515.91 1047.16L1523.51 1047.16L1538.36 1062.01L1538.36 1069.61L1523.51 1084.46L1515.91 1084.46L1501.06 1069.61L1501.06 1062.01ZM1523.36 1047.16L1530.96 1047.16L1545.81 1062.01L1545.81 1069.61L1530.96 1084.46L1523.36 1084.46L1508.51 1069.61L1508.51 1062.01ZM1530.82 1047.16L1538.41 1047.16L1553.27 1062.01L1553.27 1069.61L1538.41 1084.46L1530.82 1084.46L1515.96 1069.61L1515.96 1062.01ZM1538.27 1047.16L1545.87 1047.16L1560.72 1062.01L1560.72 1069.61L1545.87 1084.46L1538.27 1084.46L1523.42 1069.61L1523.42 1062.01ZM1545.72 1047.16L1553.32 1047.16L1568.17 1062.01L1568.17 1069.61L1553.32 1084.46L1545.72 1084.46L1530.87 1069.61L1530.87 1062.01ZM1553.17 1047.16L1560.77 1047.16L1575.62 1062.01L1575.62 1069.61L1560.77 1084.46L1553.17 1084.46L1538.32 1069.61L1538.32 1062.01ZM1560.62 1047.16L1568.22 1047.16L1583.08 1062.01L1583.08 1069.61L1568.22 1084.46L1560.62 1084.46L1545.77 1069.61L1545.77 1062.01ZM1568.08 1047.16L1575.68 1047.16L1590.53 1062.01L1590.53 1069.61L1575.68 1084.46L1568.08 1084.46L1553.23 1069.61L1553.23 1062.01ZM1575.53 1047.16L1583.13 1047.16L1597.98 1062.01L1597.98 1069.61L1583.13 1084.46L1575.53 1084.46L1560.68 1069.61L1560.68 1062.01ZM1582.98 1047.16L1590.58 1047.16L1605.43 1062.01L1605.43 1069.61L1590.58 1084.46L1582.98 1084.46L1568.13 1069.61L1568.13 1062.01ZM1590.44 1047.16L1598.04 1047.16L1612.89 1062.01L1612.89 1069.61L1598.04 1084.46L1590.44 1084.46L1575.59 1069.61L1575.59 1062.01ZM1597.89 1047.16L1605.49 1047.16L1620.34 1062.01L1620.34 1069.61L1605.49 1084.46L1597.89 1084.46L1583.04 1069.61L1583.04 1062.01ZM1605.34 1047.16L1612.94 1047.16L1627.79 1062.01L1627.79 1069.61L1612.94 1084.46L1605.34 1084.46L1590.49 1069.61L1590.49 1062.01ZM1612.79 1047.16L1620.39 1047.16L1635.24 1062.01L1635.24 1069.61L1620.39 1084.46L1612.79 1084.46L1597.94 1069.61L1597.94 1062.01ZM1620.25 1047.16L1627.85 1047.16L1642.7 1062.01L1642.7 1069.61L1627.85 1084.46L1620.25 1084.46L1605.39 1069.61L1605.39 1062.01ZM1627.7 1047.16L1635.3 1047.16L1650.15 1062.01L1650.15 1069.61L1635.3 1084.46L1627.7 1084.46L1612.85 1069.61L1612.85 1062.01ZM1635.15 1047.16L1642.75 1047.16L1657.6 1062.01L1657.6 1069.61L1642.75 1084.46L1635.15 1084.46L1620.3 1069.61L1620.3 1062.01ZM1642.6 1047.16L1650.2 1047.16L1665.05 1062.01L1665.05 1069.61L1650.2 1084.46L1642.6 1084.46L1627.75 1069.61L1627.75 1062.01ZM1650.06 1054.54L1657.65 1054.54L1672.51 1069.39L1672.51 1076.99L1657.65 1091.84L1650.06 1091.84L1635.2 1076.99L1635.2 1069.39Z" fill="#00f"/>
<path d="M174.46 1546.35L182.06 1546.35L196.91 1561.2L196.91 1568.8L182.06 1583.65L174.46 1583.65L159.61 1568.8L159.61 1561.2ZM181.91 1538.89L189.51 1538.89L204.36 1553.74L204.36 1561.34L189.51 1576.19L181.91 1576.19L167.06 1561.34L167.06 1553.74ZM189.36 1546.35L196.97 1546.35L211.81 1561.2L211.81 1568.8L196.97 1583.65L189.36 1583.65L174.51 1568.8L174.51 1561.2ZM196.82 1546.35L204.42 1546.35L219.27 1561.2L219.27 1568.8L204.42 1583.65L196.82 1583.65L181.97 1568.8L181.97 1561.2ZM204.27 1546.35L211.87 1546.35L226.72 1561.2L226.72 1568.8L211.87 1583.65L204.27 1583.65L189.42 1568.8L189.42 1561.2ZM211.72 1538.89L219.32 1538.89L234.17 1553.74L234.17 1561.34L219.32 1576.19L211.72 1576.19L196.87 1561.34L196.87 1553.74ZM219.17 1538.89L226.78 1538.89L241.62 1553.74L241.62 1561.34L226.78 1576.19L219.17 1576.19L204.32 1561.34L204.32 1553.74ZM226.63 1546.35L234.23 1546.35L249.08 1561.2L249.08 1568.8L234.23 1583.65L226.63 1583.65L211.78 1568.8L211.78 1561.2ZM234.08 1538.89L241.68 1538.89L256.53 1553.74L256.53 1561.34L241.68 1576.19L234.08 1576.19L219.23 1561.34L219.23 1553.74ZM241.53 1546.35L249.13 1546.35L263.98 1561.2L263.98 1568.8L249.13 1583.65L241.53 1583.65L226.68 1568.8L226.68 1561.2ZM248.98 1538.89L256.58 1538.89L271.44 1553.74L271.44 1561.34L256.58 1576.19L248.98 1576.19L234.13 1561.34L234.13 1553.74ZM256.44 1538.89L264.04 1538.89L278.89 1553.74L278.89 1561.34L264.04 1576.19L256.44 1576.19L241.59 1561.34L241.59 1553.74ZM263.89 1538.89L271.49 1538.89L286.34 1553.74L286.34 1561.34L271.49 1576.19L263.89 1576.19L249.04 1561.34L249.04 1553.74ZM271.34 1538.89L278.94 1538.89L293.79 1553.74L293.79 1561.34L278.94 1576.19L271.34 1576.19L256.49 1561.34L256.49 1553.74ZM278.79 1538.89L286.39 1538.89L301.24 1553.74L301.24 1561.34L286.39 1576.19L278.79 1576.19L263.94 1561.34L263.94 1553.74ZM286.25 1538.89L293.85 1538.89L308.7 1553.74L308.7 1561.34L293.85 1576.19L286.25 1576.19L271.4 1561.34L271.4 1553.74ZM293.7 1538.89L301.3 1538.89L316.15 1553.74L316.15 1561.34L301.3 1576.19L293.7 1576.19L278.85 1561.34L278.85 1553.74ZM301.15 1538.89L308.75 1538.89L323.6 1553.74L323.6 1561.34L308.75 1576.19L301.15 1576.19L286.3 1561.34L286.3 1553.74ZM308.6 1538.89L316.2 1538.89L331.05 1553.74L331.05 1561.34L316.2 1576.19L308.6 1576.19L293.75 1561.34L293.75 1553.74ZM316.06 1538.89L323.66 1538.89L338.51 1553.74L338.51 1561.34L323.66 1576.19L316.06 1576.19L301.21 1561.34L301.21 1553.74ZM323.51 1538.89L331.11 1538.89L345.96 1553.74L345.96 1561.34L331.11 1576.19L323.51 1576.19L308.66 1561.34L308.66 1553.74ZM330.96 1538.89L338.56 1538.89L353.41 1553.74L353.41 1561.34L338.56 1576.19L330.96 1576.19L316.11 1561.34L316.11 1553.74ZM338.41 1538.89L346.01 1538.89L360.86 1553.74L360.86 1561.34L346.01 1576.19L338.41 1576.19L323.56 1561.34L323.56 1553.74ZM345.87 1538.89L353.47 1538.89L368.32 1553.74L368.32 1561.34L353.47 1576.19L345.87 1576.19L331.02 1561.34L331.02 1553.74ZM353.32 1538.89L360.92 1538.89L375.77 1553.74L375.77 1561.34L360.92 1576.19L353.32 1576.19L338.47 1561.34L338.47 1553.74ZM360.77 1538.89L368.37 1538.89L383.22 1553.74L383.22 1561.34L368.37 1576.19L360.77 1576.19L345.92 1561.34L345.92 1553.74ZM368.22 1538.89L375.82 1538.89L390.67 1553.74L390.67 1561.34L375.82 1576.19L368.22 1576.19L353.38 1561.34L353.38 1553.74ZM375.68 1538.89L383.28 1538.89L398.13 1553.74L398.13 1561.34L383.28 1576.19L375.68 1576.19L360.83 1561.34L360.83 1553.74ZM383.13 1538.89L390.73 1538.89L405.58 1553.74L405.58 1561.34L390.73 1576.19L383.13 1576.19L368.28 1561.34L368.28 1553.74ZM390.58 1538.89L398.18 1538.89L413.03 1553.74L413.03 1561.34L398.18 1576.19L390.58 1576.19L375.73 1561.34L375.73 1553.74ZM398.03 1538.89L405.63 1538.89L420.48 1553.74L420.48 1561.34L405.63 1576.19L398.03 1576.19L383.19 1561.34L383.19 1553.74ZM405.49 1538.89L413.09 1538.89L427.94 1553.74L427.94 1561.34L413.09 1576.19L405.49 1576.19L390.64 1561.34L390.64 1553.74ZM412.94 1538.89L420.54 1538.89L435.39 1553.74L435.39 1561.34L420.54 1576.19L412.94 1576.19L398.09 1561.34L398.09 1553.74ZM420.39 1546.35L427.99 1546.35L442.84 1561.2L442.84 1568.8L427.99 1583.65L420.39 1583.65L405.54 1568.8L405.54 1561.2ZM427.84 1538.89L435.44 1538.89L450.29 1553.74L450.29 1561.34L435.44 1576.19L427.84 1576.19L413 1561.34L413 1553.74ZM435.3 1546.35L442.9 1546.35L457.75 1561.2L457.75 1568.8L442.9 1583.65L435.3 1583.65L420.45 1568.8L420.45 1561.2ZM442.75 1546.35L450.35 1546.35L465.2 1561.2L465.2 1568.8L450.35 1583.65L442.75 1583.65L427.9 1568.8L427.9 1561.2ZM450.2 1546.35L457.8 1546.35L472.65 1561.2L472.65 1568.8L457.8 1583.65L450.2 1583.65L435.35 1568.8L435.35 1561.2ZM457.65 1546.35L465.25 1546.35L480.1 1561.2L480.1 1568.8L465.25 1583.65L457.65 1583.65L442.81 1568.8L442.81 1561.2ZM465.11 1546.35L472.71 1546.35L487.56 1561.2L487.56 1568.8L472.71 1583.65L465.11 1583.65L450.26 1568.8L450.26 1561.2ZM472.56 1546.35L480.16 1546.35L495.01 1561.2L495.01 1568.8L480.16 1583.65L472.56 1583.65L457.71 1568.8L457.71 1561.2ZM480.01 1546.35L487.61 1546.35L502.46 1561.2L502.46 1568.8L487.61 1583.65L480.01 1583.65L465.16 1568.8L465.16 1561.2ZM487.46 1546.35L495.06 1546.35L509.91 1561.2L509.91 1568.8L495.06 1583.65L487.46 1583.65L472.61 1568.8L472.61 1561.2ZM494.92 1546.35L502.52 1546.35L517.37 1561.2L517.37 1568.8L502.52 1583.65L494.92 1583.65L480.07 1568.8L480.07 1561.2ZM502.37 1546.35L509.97 1546.35L524.82 1561.2L524.82 1568.8L509.97 1583.65L502.37 1583.65L487.52 1568.8L487.52 1561.2ZM509.82 1546.35L517.42 1546.35L532.27 1561.2L532.27 1568.8L517.42 1583.65L509.82 1583.65L494.97 1568.8L494.97 1561.2ZM517.27 1546.35L524.87 1546.35L539.72 1561.2L539.72 1568.8L524.87 1583.65L517.27 1583.65L502.42 1568.8L502.42 1561.2ZM524.73 1546.35L532.33 1546.35L547.18 1561.2L547.18 1568.8L532.33 1583.65L524.73 1583.65L509.88 1568.8L509.88 1561.2ZM532.18 1546.35L539.78 1546.35L554.63 1561.2L554.63 1568.8L539.78 1583.65L532.18 1583.65L517.33 1568.8L517.33 1561.2ZM539.63 1546.35L547.23 1546.35L562.08 1561.2L562.08 1568.8L547.23 1583.65L539.63 1583.65L524.78 1568.8L524.78 1561.2ZM547.09 1546.35L554.68 1546.35L569.53 1561.2L569.53 1568.8L554.68 1583.65L547.09 1583.65L532.24 1568.8L532.24 1561.2ZM554.54 1546.35L562.14 1546.35L576.99 1561.2L576.99 1568.8L562.14 1583.65L554.54 1583.65L539.69 1568.8L539.69 1561.2ZM561.99 1546.35L569.59 1546.35L584.44 1561.2L584.44 1568.8L569.59 1583.65L561.99 1583.65L547.14 1568.8L547.14 1561.2ZM569.44 1538.89L577.04 1538.89L591.89 1553.74L591.89 1561.34L577.04 1576.19L569.44 1576.19L554.59 1561.34L554.59 1553.74ZM576.89 1538.89L584.49 1538.89L599.34 1553.74L599.34 1561.34L584.49 1576.19L576.89 1576.19L562.04 1561.34L562.04 1553.74ZM584.35 1538.89L591.95 1538.89L606.8 1553.74L606.8 1561.34L591.95 1576.19L584.35 1576.19L569.5 1561.34L569.5 1553.74ZM591.8 1538.89L599.4 1538.89L614.25 1553.74L614.25 1561.34L599.4 1576.19L591.8 1576.19L576.95 1561.34L576.95 1553.74ZM599.25 1538.89L606.85 1538.89L621.7 1553.74L621.7 1561.34L606.85 1576.19L599.25 1576.19L584.4 1561.34L584.4 1553.74ZM606.71 1538.89L614.3 1538.89L629.15 1553.74L629.15 1561.34L614.3 1576.19L606.71 1576.19L591.86 1561.34L591.86 1553.74ZM614.16 1538.89L621.76 1538.89L636.61 1553.74L636.61 1561.34L621.76 1576.19L614.16 1576.19L599.31 1561.34L599.31 1553.74ZM621.61 1531.43L629.21 1531.43L644.06 1546.28L644.06 1553.88L629.21 1568.73L621.61 1568.73L606.76 1553.88L606.76 1546.28ZM629.06 1531.43L636.66 1531.43L651.51 1546.28L651.51 1553.88L636.66 1568.73L629.06 1568.73L614.21 1553.88L614.21 1546.28ZM636.51 1531.43L644.11 1531.43L658.96 1546.28L658.96 1553.88L644.11 1568.73L636.51 1568.73L621.66 1553.88L621.66 1546.28ZM643.97 1523.97L651.57 1523.97L666.42 1538.82L666.42 1546.42L651.57 1561.27L643.97 1561.27L629.12 1546.42L629.12 1538.82ZM651.42 1523.97L659.02 1523.97L673.87 1538.82L673.87 1546.42L659.02 1561.27L651.42 1561.27L636.57 1546.42L636.57 1538.82ZM658.87 1516.51L666.47 1516.51L681.32 1531.36L681.32 1538.96L666.47 1553.81L658.87 1553.81L644.02 1538.96L644.02 1531.36ZM666.33 1516.51L673.92 1516.51L688.77 1531.36L688.77 1538.96L673.92 1553.81L666.33 1553.81L651.48 1538.96L651.48 1531.36ZM673.78 1509.05L681.38 1509.05L696.23 1523.9L696.23 1531.5L681.38 1546.35L673.78 1546.35L658.93 1531.5L658.93 1523.9ZM681.23 1509.05L688.83 1509.05L703.68 1523.9L703.68 1531.5L688.83 1546.35L681.23 1546.35L666.38 1531.5L666.38 1523.9ZM688.68 1501.58L696.28 1501.58L711.13 1516.43L711.13 1524.03L696.28 1538.88L688.68 1538.88L673.83 1524.03L673.83 1516.43ZM696.13 1494.12L703.73 1494.12L718.58 1508.97L718.58 1516.57L703.73 1531.42L696.13 1531.42L681.28 1516.57L681.28 1508.97ZM703.59 1486.66L711.19 1486.66L726.04 1501.51L726.04 1509.11L711.19 1523.96L703.59 1523.96L688.74 1509.11L688.74 1501.51ZM711.04 1479.2L718.64 1479.2L733.49 1494.05L733.49 1501.65L718.64 1516.5L711.04 1516.5L696.19 1501.65L696.19 1494.05ZM718.49 1464.28L726.09 1464.28L740.94 1479.13L740.94 1486.73L726.09 1501.58L718.49 1501.58L703.64 1486.73L703.64 1479.13ZM725.94 1456.82L733.54 1456.82L748.39 1471.67L748.39 1479.27L733.54 1494.12L725.94 1494.12L711.09 1479.27L711.09 1471.67ZM733.4 1449.36L741 1449.36L755.85 1464.21L755.85 1471.81L741 1486.66L733.4 1486.66L718.55 1471.81L718.55 1464.21ZM740.85 1434.44L748.45 1434.44L763.3 1449.29L763.3 1456.89L748.45 1471.74L740.85 1471.74L726 1456.89L726 1449.29ZM748.3 1426.98L755.9 1426.98L770.75 1441.83L770.75 1449.43L755.9 1464.28L748.3 1464.28L733.45 1449.43L733.45 1441.83ZM755.75 1412.05L763.35 1412.05L778.2 1426.9L778.2 1434.5L763.35 1449.35L755.75 1449.35L740.9 1434.5L740.9 1426.9ZM763.21 1397.13L770.81 1397.13L785.66 1411.98L785.66 1419.58L770.81 1434.43L763.21 1434.43L748.36 1419.58L748.36 1411.98ZM770.66 1389.67L778.26 1389.67L793.11 1404.52L793.11 1412.12L778.26 1426.97L770.66 1426.97L755.81 1412.12L755.81 1404.52ZM778.11 1374.75L785.71 1374.75L800.56 1389.6L800.56 1397.2L785.71 1412.05L778.11 1412.05L763.26 1397.2L763.26 1389.6ZM785.56 1359.83L793.16 1359.83L808.01 1374.68L808.01 1382.28L793.16 1397.13L785.56 1397.13L770.71 1382.28L770.71 1374.68ZM793.02 1344.91L800.62 1344.91L815.47 1359.76L815.47 1367.36L800.62 1382.21L793.02 1382.21L778.17 1367.36L778.17 1359.76ZM793.02 1329.98L800.62 1329.98L815.47 1344.83L815.47 1352.43L800.62 1367.28L793.02 1367.28L778.17 1352.43L778.17 1344.83ZM800.47 1315.06L808.07 1315.06L822.92 1329.91L822.92 1337.51L808.07 1352.36L800.47 1352.36L785.62 1337.51L785.62 1329.91ZM807.92 1300.14L815.52 1300.14L830.37 1314.99L830.37 1322.59L815.52 1337.44L807.92 1337.44L793.07 1322.59L793.07 1314.99ZM815.38 1285.22L822.97 1285.22L837.82 1300.07L837.82 1307.67L822.97 1322.52L815.38 1322.52L800.52 1307.67L800.52 1300.07ZM822.83 1270.3L830.43 1270.3L845.28 1285.15L845.28 1292.75L830.43 1307.6L822.83 1307.6L807.98 1292.75L807.98 1285.15ZM830.28 1255.38L837.88 1255.38L852.73 1270.23L852.73 1277.83L837.88 1292.68L830.28 1292.68L815.43 1277.83L815.43 1270.23ZM837.73 1240.45L845.33 1240.45L860.18 1255.3L860.18 1262.9L845.33 1277.75L837.73 1277.75L822.88 1262.9L822.88 1255.3ZM845.18 1225.53L852.78 1225.53L867.63 1240.38L867.63 1247.98L852.78 1262.83L845.18 1262.83L830.33 1247.98L830.33 1240.38ZM852.64 1210.61L860.24 1210.61L875.09 1225.46L875.09 1233.06L860.24 1247.91L852.64 1247.91L837.79 1233.06L837.79 1225.46ZM860.09 1203.15L867.69 1203.15L882.54 1218L882.54 1225.6L867.69 1240.45L860.09 1240.45L845.24 1225.6L845.24 1218ZM867.54 1188.23L875.14 1188.23L889.99 1203.08L889.99 1210.68L875.14 1225.53L867.54 1225.53L852.69 1210.68L852.69 1203.08ZM867.54 1180.77L875.14 1180.77L889.99 1195.62L889.99 1203.22L875.14 1218.07L867.54 1218.07L852.69 1203.22L852.69 1195.62ZM875 1165.85L882.59 1165.85L897.44 1180.7L897.44 1188.3L882.59 1203.15L875 1203.15L860.14 1188.3L860.14 1180.7ZM882.45 1158.39L890.05 1158.39L904.9 1173.24L904.9 1180.84L890.05 1195.69L882.45 1195.69L867.6 1180.84L867.6 1173.24ZM889.9 1143.46L897.5 1143.46L912.35 1158.31L912.35 1165.91L897.5 1180.76L889.9 1180.76L875.05 1165.91L875.05 1158.31ZM897.35 1136L904.95 1136L919.8 1150.85L919.8 1158.45L904.95 1173.3L897.35 1173.3L882.5 1158.45L882.5 1150.85ZM904.8 1128.54L912.4 1128.54L927.25 1143.39L927.25 1150.99L912.4 1165.84L904.8 1165.84L889.95 1150.99L889.95 1143.39ZM912.26 1128.54L919.86 1128.54L934.71 1143.39L934.71 1150.99L919.86 1165.84L912.26 1165.84L897.41 1150.99L897.41 1143.39ZM919.71 1121.08L927.31 1121.08L942.16 1135.93L942.16 1143.53L927.31 1158.38L919.71 1158.38L904.86 1143.53L904.86 1135.93ZM927.16 1113.62L934.76 1113.62L949.61 1128.47L949.61 1136.07L934.76 1150.92L927.16 1150.92L912.31 1136.07L912.31 1128.47ZM934.62 1113.62L942.21 1113.62L957.06 1128.47L957.06 1136.07L942.21 1150.92L934.62 1150.92L919.76 1136.07L919.76 1128.47ZM942.07 1113.62L949.67 1113.62L964.52 1128.47L964.52 1136.07L949.67 1150.92L942.07 1150.92L927.22 1136.07L927.22 1128.47ZM949.52 1113.62L957.12 1113.62L971.97 1128.47L971.97 1136.07L957.12 1150.92L949.52 1150.92L934.67 1136.07L934.67 1128.47ZM956.97 1121.08L964.57 1121.08L979.42 1135.93L979.42 1143.53L964.57 1158.38L956.97 1158.38L942.12 1143.53L942.12 1135.93ZM964.42 1128.54L972.02 1128.54L986.87 1143.39L986.87 1150.99L972.02 1165.84L964.42 1165.84L949.57 1150.99L949.57 1143.39ZM971.88 1136L979.48 1136L994.33 1150.85L994.33 1158.45L979.48 1173.3L971.88 1173.3L957.03 1158.45L957.03 1150.85ZM979.33 1143.46L986.93 1143.46L1001.78 1158.31L1001.78 1165.91L986.93 1180.76L979.33 1180.76L964.48 1165.91L964.48 1158.31ZM986.78 1158.39L994.38 1158.39L1009.23 1173.24L1009.23 1180.84L994.38 1195.69L986.78 1195.69L971.93 1180.84L971.93 1173.24ZM994.24 1165.85L1001.83 1165.85L1016.68 1180.7L1016.68 1188.3L1001.83 1203.15L994.24 1203.15L979.38 1188.3L979.38 1180.7ZM1001.69 1188.23L1009.29 1188.23L1024.14 1203.08L1024.14 1210.68L1009.29 1225.53L1001.69 1225.53L986.84 1210.68L986.84 1203.08ZM1009.14 1203.15L1016.74 1203.15L1031.59 1218L1031.59 1225.6L1016.74 1240.45L1009.14 1240.45L994.29 1225.6L994.29 1218ZM1016.59 1218.07L1024.19 1218.07L1039.04 1232.92L1039.04 1240.52L1024.19 1255.37L1016.59 1255.37L1001.74 1240.52L1001.74 1232.92ZM1016.59 1240.45L1024.19 1240.45L1039.04 1255.3L1039.04 1262.9L1024.19 1277.75L1016.59 1277.75L1001.74 1262.9L1001.74 1255.3ZM1024.05 1255.38L1031.64 1255.38L1046.5 1270.23L1046.5 1277.83L1031.64 1292.68L1024.05 1292.68L1009.2 1277.83L1009.2 1270.23ZM1031.5 1277.76L1039.1 1277.76L1053.95 1292.61L1053.95 1300.21L1039.1 1315.06L1031.5 1315.06L1016.65 1300.21L1016.65 1292.61ZM1038.95 1292.68L1046.55 1292.68L1061.4 1307.53L1061.4 1315.13L1046.55 1329.98L1038.95 1329.98L1024.1 1315.13L1024.1 1307.53ZM1046.4 1315.06L1054 1315.06L1068.85 1329.91L1068.85 1337.51L1054 1352.36L1046.4 1352.36L1031.55 1337.51L1031.55 1329.91ZM1053.86 1337.45L1061.45 1337.45L1076.31 1352.3L1076.31 1359.9L1061.45 1374.75L1053.86 1374.75L1039 1359.9L1039 1352.3ZM1061.31 1352.37L1068.91 1352.37L1083.76 1367.22L1083.76 1374.82L1068.91 1389.67L1061.31 1389.67L1046.46 1374.82L1046.46 1367.22ZM1068.76 1367.29L1076.36 1367.29L1091.21 1382.14L1091.21 1389.74L1076.36 1404.59L1068.76 1404.59L1053.91 1389.74L1053.91 1382.14ZM1076.21 1389.67L1083.81 1389.67L1098.66 1404.52L1098.66 1412.12L1083.81 1426.97L1076.21 1426.97L1061.36 1412.12L1061.36 1404.52ZM1083.67 1404.59L1091.27 1404.59L1106.12 1419.44L1106.12 1427.04L1091.27 1441.89L1083.67 1441.89L1068.82 1427.04L1068.82 1419.44ZM1091.12 1412.05L1098.72 1412.05L1113.57 1426.9L1113.57 1434.5L1098.72 1449.35L1091.12 1449.35L1076.27 1434.5L1076.27 1426.9ZM1091.12 1426.98L1098.72 1426.98L1113.57 1441.83L1113.57 1449.43L1098.72 1464.28L1091.12 1464.28L1076.27 1449.43L1076.27 1441.83ZM1098.57 1441.9L1106.17 1441.9L1121.02 1456.75L1121.02 1464.35L1106.17 1479.2L1098.57 1479.2L1083.72 1464.35L1083.72 1456.75ZM1106.02 1456.82L1113.62 1456.82L1128.47 1471.67L1128.47 1479.27L1113.62 1494.12L1106.02 1494.12L1091.17 1479.27L1091.17 1471.67ZM1113.48 1464.28L1121.08 1464.28L1135.93 1479.13L1135.93 1486.73L1121.08 1501.58L1113.48 1501.58L1098.62 1486.73L1098.62 1479.13ZM1120.93 1471.74L1128.53 1471.74L1143.38 1486.59L1143.38 1494.19L1128.53 1509.04L1120.93 1509.04L1106.08 1494.19L1106.08 1486.59ZM1128.38 1479.2L1135.98 1479.2L1150.83 1494.05L1150.83 1501.65L1135.98 1516.5L1128.38 1516.5L1113.53 1501.65L1113.53 1494.05ZM1135.83 1486.66L1143.43 1486.66L1158.28 1501.51L1158.28 1509.11L1143.43 1523.96L1135.83 1523.96L1120.98 1509.11L1120.98 1501.51ZM1143.29 1494.12L1150.88 1494.12L1165.74 1508.97L1165.74 1516.57L1150.88 1531.42L1143.29 1531.42L1128.43 1516.57L1128.43 1508.97ZM1150.74 1501.58L1158.34 1501.58L1173.19 1516.43L1173.19 1524.03L1158.34 1538.88L1150.74 1538.88L1135.89 1524.03L1135.89 1516.43ZM1158.19 1509.05L1165.79 1509.05L1180.64 1523.9L1180.64 1531.5L1165.79 1546.35L1158.19 1546.35L1143.34 1531.5L1143.34 1523.9ZM1165.64 1523.97L1173.24 1523.97L1188.09 1538.82L1188.09 1546.42L1173.24 1561.27L1165.64 1561.27L1150.79 1546.42L1150.79 1538.82ZM1173.1 1531.43L1180.69 1531.43L1195.55 1546.28L1195.55 1553.88L1180.69 1568.73L1173.1 1568.73L1158.24 1553.88L1158.24 1546.28ZM1180.55 1531.43L1188.15 1531.43L1203 1546.28L1203 1553.88L1188.15 1568.73L1180.55 1568.73L1165.7 1553.88L1165.7 1546.28ZM1188 1531.43L1195.6 1531.43L1210.45 1546.28L1210.45 1553.88L1195.6 1568.73L1188 1568.73L1173.15 1553.88L1173.15 1546.28ZM1195.45 1538.89L1203.05 1538.89L1217.9 1553.74L1217.9 1561.34L1203.05 1576.19L1195.45 1576.19L1180.6 1561.34L1180.6 1553.74ZM1202.9 1538.89L1210.5 1538.89L1225.36 1553.74L1225.36 1561.34L1210.5 1576.19L1202.9 1576.19L1188.05 1561.34L1188.05 1553.74ZM1210.36 1546.35L1217.96 1546.35L1232.81 1561.2L1232.81 1568.8L1217.96 1583.65L1210.36 1583.65L1195.51 1568.8L1195.51 1561.2ZM1217.81 1546.35L1225.41 1546.35L1240.26 1561.2L1240.26 1568.8L1225.41 1583.65L1217.81 1583.65L1202.96 1568.8L1202.96 1561.2ZM1225.26 1546.35L1232.86 1546.35L1247.71 1561.2L1247.71 1568.8L1232.86 1583.65L1225.26 1583.65L1210.41 1568.8L1210.41 1561.2ZM1232.72 1546.35L1240.32 1546.35L1255.17 1561.2L1255.17 1568.8L1240.32 1583.65L1232.72 1583.65L1217.87 1568.8L1217.87 1561.2ZM1240.17 1553.81L1247.77 1553.81L1262.62 1568.66L1262.62 1576.26L1247.77 1591.11L1240.17 1591.11L1225.32 1576.26L1225.32 1568.66ZM1247.62 1553.81L1255.22 1553.81L1270.07 1568.66L1270.07 1576.26L1255.22 1591.11L1247.62 1591.11L1232.77 1576.26L1232.77 1568.66ZM1255.07 1553.81L1262.67 1553.81L1277.52 1568.66L1277.52 1576.26L1262.67 1591.11L1255.07 1591.11L1240.22 1576.26L1240.22 1568.66ZM1262.53 1553.81L1270.12 1553.81L1284.98 1568.66L1284.98 1576.26L1270.12 1591.11L1262.53 1591.11L1247.67 1576.26L1247.67 1568.66ZM1269.98 1553.81L1277.58 1553.81L1292.43 1568.66L1292.43 1576.26L1277.58 1591.11L1269.98 1591.11L1255.13 1576.26L1255.13 1568.66ZM1277.43 1561.27L1285.03 1561.27L1299.88 1576.12L1299.88 1583.72L1285.03 1598.57L1277.43 1598.57L1262.58 1583.72L1262.58 1576.12ZM1284.88 1561.27L1292.48 1561.27L1307.33 1576.12L1307.33 1583.72L1292.48 1598.57L1284.88 1598.57L1270.03 1583.72L1270.03 1576.12ZM1292.34 1561.27L1299.93 1561.27L1314.79 1576.12L1314.79 1583.72L1299.93 1598.57L1292.34 1598.57L1277.48 1583.72L1277.48 1576.12ZM1299.79 1561.27L1307.39 1561.27L1322.24 1576.12L1322.24 1583.72L1307.39 1598.57L1299.79 1598.57L1284.94 1583.72L1284.94 1576.12ZM1307.24 1561.27L1314.84 1561.27L1329.69 1576.12L1329.69 1583.72L1314.84 1598.57L1307.24 1598.57L1292.39 1583.72L1292.39 1576.12ZM1314.69 1561.27L1322.29 1561.27L1337.14 1576.12L1337.14 1583.72L1322.29 1598.57L1314.69 1598.57L1299.84 1583.72L1299.84 1576.12ZM1322.14 1561.27L1329.74 1561.27L1344.6 1576.12L1344.6 1583.72L1329.74 1598.57L1322.14 1598.57L1307.29 1583.72L1307.29 1576.12ZM1329.6 1561.27L1337.2 1561.27L1352.05 1576.12L1352.05 1583.72L1337.2 1598.57L1329.6 1598.57L1314.75 1583.72L1314.75 1576.12ZM1337.05 1561.27L1344.65 1561.27L1359.5 1576.12L1359.5 1583.72L1344.65 1598.57L1337.05 1598.57L1322.2 1583.72L1322.2 1576.12ZM1344.5 1561.27L1352.1 1561.27L1366.95 1576.12L1366.95 1583.72L1352.1 1598.57L1344.5 1598.57L1329.65 1583.72L1329.65 1576.12ZM1351.96 1561.27L1359.56 1561.27L1374.41 1576.12L1374.41 1583.72L1359.56 1598.57L1351.96 1598.57L1337.11 1583.72L1337.11 1576.12ZM1359.41 1561.27L1367.01 1561.27L1381.86 1576.12L1381.86 1583.72L1367.01 1598.57L1359.41 1598.57L1344.56 1583.72L1344.56 1576.12ZM1366.86 1561.27L1374.46 1561.27L1389.31 1576.12L1389.31 1583.72L1374.46 1598.57L1366.86 1598.57L1352.01 1583.72L1352.01 1576.12ZM1374.31 1561.27L1381.91 1561.27L1396.76 1576.12L1396.76 1583.72L1381.91 1598.57L1374.31 1598.57L1359.46 1583.72L1359.46 1576.12ZM1381.77 1561.27L1389.37 1561.27L1404.22 1576.12L1404.22 1583.72L1389.37 1598.57L1381.77 1598.57L1366.91 1583.72L1366.91 1576.12ZM1389.22 1561.27L1396.82 1561.27L1411.67 1576.12L1411.67 1583.72L1396.82 1598.57L1389.22 1598.57L1374.37 1583.72L1374.37 1576.12ZM1396.67 1561.27L1404.27 1561.27L1419.12 1576.12L1419.12 1583.72L1404.27 1598.57L1396.67 1598.57L1381.82 1583.72L1381.82 1576.12ZM1404.12 1561.27L1411.72 1561.27L1426.57 1576.12L1426.57 1583.72L1411.72 1598.57L1404.12 1598.57L1389.27 1583.72L1389.27 1576.12ZM1411.58 1561.27L1419.17 1561.27L1434.03 1576.12L1434.03 1583.72L1419.17 1598.57L1411.58 1598.57L1396.72 1583.72L1396.72 1576.12ZM1419.03 1561.27L1426.63 1561.27L1441.48 1576.12L1441.48 1583.72L1426.63 1598.57L1419.03 1598.57L1404.18 1583.72L1404.18 1576.12ZM1426.48 1561.27L1434.08 1561.27L1448.93 1576.12L1448.93 1583.72L1434.08 1598.57L1426.48 1598.57L1411.63 1583.72L1411.63 1576.12ZM1433.93 1561.27L1441.53 1561.27L1456.38 1576.12L1456.38 1583.72L1441.53 1598.57L1433.93 1598.57L1419.08 1583.72L1419.08 1576.12ZM1441.38 1561.27L1448.98 1561.27L1463.84 1576.12L1463.84 1583.72L1448.98 1598.57L1441.38 1598.57L1426.53 1583.72L1426.53 1576.12ZM1448.84 1561.27L1456.44 1561.27L1471.29 1576.12L1471.29 1583.72L1456.44 1598.57L1448.84 1598.57L1433.99 1583.72L1433.99 1576.12ZM1456.29 1568.73L1463.89 1568.73L1478.74 1583.58L1478.74 1591.18L1463.89 1606.03L1456.29 1606.03L1441.44 1591.18L1441.44 1583.58ZM1463.74 1568.73L1471.34 1568.73L1486.19 1583.58L1486.19 1591.18L1471.34 1606.03L1463.74 1606.03L1448.89 1591.18L1448.89 1583.58ZM1471.2 1568.73L1478.8 1568.73L1493.65 1583.58L1493.65 1591.18L1478.8 1606.03L1471.2 1606.03L1456.35 1591.18L1456.35 1583.58ZM1478.65 1568.73L1486.25 1568.73L1501.1 1583.58L1501.1 1591.18L1486.25 1606.03L1478.65 1606.03L1463.8 1591.18L1463.8 1583.58ZM1486.1 1568.73L1493.7 1568.73L1508.55 1583.58L1508.55 1591.18L1493.7 1606.03L1486.1 1606.03L1471.25 1591.18L1471.25 1583.58ZM1493.55 1568.73L1501.15 1568.73L1516 1583.58L1516 1591.18L1501.15 1606.03L1493.55 1606.03L1478.7 1591.18L1478.7 1583.58ZM1501.01 1568.73L1508.61 1568.73L1523.46 1583.58L1523.46 1591.18L1508.61 1606.03L1501.01 1606.03L1486.15 1591.18L1486.15 1583.58ZM1508.46 1568.73L1516.06 1568.73L1530.91 1583.58L1530.91 1591.18L1516.06 1606.03L1508.46 1606.03L1493.61 1591.18L1493.61 1583.58ZM1515.91 1568.73L1523.51 1568.73L1538.36 1583.58L1538.36 1591.18L1523.51 1606.03L1515.91 1606.03L1501.06 1591.18L1501.06 1583.58ZM1523.36 1568.73L1530.96 1568.73L1545.81 1583.58L1545.81 1591.18L1530.96 1606.03L1523.36 1606.03L1508.51 1591.18L1508.51 1583.58ZM1530.82 1568.73L1538.41 1568.73L1553.27 1583.58L1553.27 1591.18L1538.41 1606.03L1530.82 1606.03L1515.96 1591.18L1515.96 1583.58ZM1538.27 1568.73L1545.87 1568.73L1560.72 1583.58L1560.72 1591.18L1545.87 1606.03L1538.27 1606.03L1523.42 1591.18L1523.42 1583.58ZM1545.72 1568.73L1553.32 1568.73L1568.17 1583.58L1568.17 1591.18L1553.32 1606.03L1545.72 1606.03L1530.87 1591.18L1530.87 1583.58ZM1553.17 1568.73L1560.77 1568.73L1575.62 1583.58L1575.62 1591.18L1560.77 1606.03L1553.17 1606.03L1538.32 1591.18L1538.32 1583.58ZM1560.62 1568.73L1568.22 1568.73L1583.08 1583.58L1583.08 1591.18L1568.22 1606.03L1560.62 1606.03L1545.77 1591.18L1545.77 1583.58ZM1568.08 1568.73L1575.68 1568.73L1590.53 1583.58L1590.53 1591.18L1575.68 1606.03L1568.08 1606.03L1553.23 1591.18L1553.23 1583.58ZM1575.53 1568.73L1583.13 1568.73L1597.98 1583.58L1597.98 1591.18L1583.13 1606.03L1575.53 1606.03L1560.68 1591.18L1560.68 1583.58ZM1582.98 1568.73L1590.58 1568.73L1605.43 1583.58L1605.43 1591.18L1590.58 1606.03L1582.98 1606.03L1568.13 1591.18L1568.13 1583.58ZM1590.44 1568.73L1598.04 1568.73L1612.89 1583.58L1612.89 1591.18L1598.04 1606.03L1590.44 1606.03L1575.59 1591.18L1575.59 1583.58ZM1597.89 1568.73L1605.49 1568.73L1620.34 1583.58L1620.34 1591.18L1605.49 1606.03L1597.89 1606.03L1583.04 1591.18L1583.04 1583.58ZM1605.34 1568.73L1612.94 1568.73L1627.79 1583.58L1627.79 1591.18L1612.94 1606.03L1605.34 1606.03L1590.49 1591.18L1590.49 1583.58ZM1612.79 1568.73L1620.39 1568.73L1635.24 1583.58L1635.24 1591.18L1620.39 1606.03L1612.79 1606.03L1597.94 1591.18L1597.94 1583.58ZM1620.25 1568.73L1627.85 1568.73L1642.7 1583.58L1642.7 1591.18L1627.85 1606.03L1620.25 1606.03L1605.39 1591.18L1605.39 1583.58ZM1627.7 1568.73L1635.3 1568.73L1650.15 1583.58L1650.15 1591.18L1635.3 1606.03L1627.7 1606.03L1612.85 1591.18L1612.85 1583.58ZM1635.15 1568.73L1642.75 1568.73L1657.6 1583.58L1657.6 1591.18L1642.75 1606.03L1635.15 1606.03L1620.3 1591.18L1620.3 1583.58ZM1642.6 1568.73L1650.2 1568.73L1665.05 1583.58L1665.05 1591.18L1650.2 1606.03L1642.6 1606.03L1627.75 1591.18L1627.75 1583.58ZM1650.06 1568.73L1657.65 1568.73L1672.51 1583.58L1672.51 1591.18L1657.65 1606.03L1650.06 1606.03L1635.2 1591.18L1635.2 1583.58ZM1657.51 1568.73L1665.11 1568.73L1679.96 1583.58L1679.96 1591.18L1665.11 1606.03L1657.51 1606.03L1642.66 1591.18L1642.66 1583.58Z" fill="#000"/>
<path d="M599.25 1546.35L606.85 1546.35L621.7 1561.2L621.7 1568.8L606.85 1583.65L599.25 1583.65L584.4 1568.8L584.4 1561.2ZM606.71 1546.35L614.3 1546.35L629.15 1561.2L629.15 1568.8L614.3 1583.65L606.71 1583.65L591.86 1568.8L591.86 1561.2Z" fill="#000"/>
<g fill="#000">
<path d="M170 524H272L264 532H170Z"/>
<path d="M418 524H593L585 532H426Z"/>
<path d="M616.7 524L623 517H631.3L624 524Z"/>
<path d="M682 487L711 458.7L704 478L691 487Z"/>
<path d="M734.4 420L748.1 400L741 414Z"/>
<path d="M792.8 300.6L799.7 281.7L794 292Z"/>
<path d="M860.7 159L866.7 148L866 154Z"/>
</g>
<g fill="none" stroke="#000" stroke-linejoin="round">
<polyline stroke-width="7.5" points="170,1035.3 252,1035.3"/>
<polyline stroke-width="7.5" points="500,1035.3 601,1035.3 608,1027.8 630,1027.8 638,1020.5 654,1020.5 662,1013 670,1013 681,1003 688,990 702,977 712,960 726,946 735,929"/>
<polyline stroke-width="6" points="735,929 741,915 749,907 756,890 756,878 770,850 790,810 808.7,770 830,715 850,673.7 858.6,654.8 874,632.5 891,608.4 905,592"/>
<polyline stroke-width="7.5" points="908,596 908,588 917,580 946,580 953,586 968,600"/>
<polyline stroke-width="4" points="968.5,600 978,616 987,637.6"/>
<polyline stroke-width="2.5" points="987,650 1001,677 1016.6,721.8 1032,766.5 1040,789 1043.6,800 1060.8,851.5 1061.6,870.4 1076.2,908.2 1098.6,957.2 1114,982 1127.8,1002.7"/>
</g>
<g fill="#000">
<path d="M1127 995L1136 1004V1012L1127 1004Z"/>
<path d="M1136 1012L1146 1021H1138L1136 1019Z"/>
<path d="M1150 1025H1156L1163 1032H1157Z"/>
<path d="M1164 1033H1171L1178 1039H1170Z"/>
<path d="M1179 1039H1192L1200 1046H1186Z"/>
<path d="M1207 1046H1236L1244 1054H1215Z"/>
<path d="M1358 1054H1407L1415 1061H1365Z"/>
</g>
<g fill="#ff0">
<path d="M191.3 1560.7L198.6 1553.9H439.7L447 1560.7Z"/>
<path d="M462 1561H525L517 1568.5H470Z"/>
<path d="M578.8 1554.1H609L601.2 1561H571.9Z"/>
<path d="M630.6 1547.2H637.9L631 1554.1H624.2Z"/>
<path d="M660.4 1532.1H666.8L660.4 1539H653.5Z"/>
<path d="M647.1 1539H652.6L646.2 1546.7H644.3V1542.2Z"/>
<path d="M910 1136H921L913 1144H906Z"/>
</g>
<rect x="140" y="25" width="1547" height="8" fill="#000"/>
<rect x="136" y="35" width="8" height="1579" fill="#000"/>
<rect x="1680" y="35" width="8" height="1579" fill="#000"/>
<rect x="140" y="1614" width="1547" height="8" fill="#000"/>
<rect x="301" y="1622" width="8" height="51" fill="#000"/>
<rect x="576" y="1622" width="8" height="51" fill="#000"/>
<rect x="845" y="1622" width="8" height="51" fill="#000"/>
<rect x="1113" y="1622" width="8" height="51" fill="#000"/>
<rect x="1389" y="1622" width="8" height="51" fill="#000"/>
<rect x="1657" y="1622" width="8" height="51" fill="#000"/>
<rect x="166.5" y="1622" width="8" height="22" fill="#000"/>
<rect x="434.5" y="1622" width="8" height="22" fill="#000"/>
<rect x="711" y="1622" width="8" height="22" fill="#000"/>
<rect x="979" y="1622" width="8" height="22" fill="#000"/>
<rect x="1247" y="1622" width="8" height="22" fill="#000"/>
<rect x="1523" y="1622" width="8" height="22" fill="#000"/>
<rect x="222" y="91.8" width="131" height="8" fill="#f00"/>
<path d="M286.1 59L292.9 59L326 92.1L326 98.9L292.9 132L286.1 132L253 98.9L253 92.1Z" fill="#f00"/>
<rect x="222" y="188.8" width="131" height="8" fill="#00f"/>
<path d="M286.1 156L292.9 156L326 189.1L326 195.9L292.9 229L286.1 229L253 195.9L253 189.1Z" fill="#00f"/>
<rect x="222" y="285.2" width="131" height="8" fill="#000"/>
<path d="M286.1 252.4L292.9 252.4L326 285.5L326 292.3L292.9 325.4L286.1 325.4L253 292.3L253 285.5Z" fill="#000"/>
<g font-family="'Liberation Sans', sans-serif" fill="#000" stroke="#000" stroke-width="0.9" stroke-linejoin="round" shape-rendering="auto" text-rendering="geometricPrecision">
<text transform="translate(0 1774.8)" font-size="83" x="232.15 281.01 331.12" y="0">138</text>
<rect x="236.48" y="1767.4" width="16.1" height="8.9" fill="#fff" stroke="none"/>
<rect x="260.81" y="1767.4" width="15.45" height="8.9" fill="#fff" stroke="none"/>
<text transform="translate(0 1774.8)" font-size="83" x="507.9 556.96 607.34" y="0">136</text>
<rect x="512.23" y="1767.4" width="16.1" height="8.9" fill="#fff" stroke="none"/>
<rect x="536.56" y="1767.4" width="15.45" height="8.9" fill="#fff" stroke="none"/>
<text transform="translate(0 1774.8)" font-size="83" x="776.3 825.41 875.63" y="0">134</text>
<rect x="780.63" y="1767.4" width="16.1" height="8.9" fill="#fff" stroke="none"/>
<rect x="804.96" y="1767.4" width="15.45" height="8.9" fill="#fff" stroke="none"/>
<text transform="translate(0 1774.8)" font-size="83" x="1044.2 1093.46 1143.22" y="0">132</text>
<rect x="1048.53" y="1767.4" width="16.1" height="8.9" fill="#fff" stroke="none"/>
<rect x="1072.86" y="1767.4" width="15.45" height="8.9" fill="#fff" stroke="none"/>
<text transform="translate(0 1774.8)" font-size="83" x="1319.9 1369.56 1419.37" y="0">130</text>
<rect x="1324.23" y="1767.4" width="16.1" height="8.9" fill="#fff" stroke="none"/>
<rect x="1348.56" y="1767.4" width="15.45" height="8.9" fill="#fff" stroke="none"/>
<text transform="translate(0 1774.8)" font-size="83" x="1588.4 1638.62 1687.97" y="0">128</text>
<rect x="1592.73" y="1767.4" width="16.1" height="8.9" fill="#fff" stroke="none"/>
<rect x="1617.06" y="1767.4" width="15.45" height="8.9" fill="#fff" stroke="none"/>
<text transform="translate(0 125.8) scale(0.9640 1)" font-size="83" x="411.64 470.08 521.37 571.28 622.5 668.62" y="0">V10APO</text>
<rect x="457.25" y="118.4" width="15.58" height="8.9" fill="#fff" stroke="none"/>
<rect x="480.8" y="118.4" width="14.95" height="8.9" fill="#fff" stroke="none"/>
<text transform="translate(0 222.9) scale(0.9640 1)" font-size="83" x="411.64 470.08 519.54 545.62 594.62 645.74 691.86" y="0">V7.5APO</text>
<text transform="translate(0 320) scale(0.9640 1)" font-size="83" x="411.64 470.1 519.52 570.95 616.75" y="0">V5APO</text>
<text transform="translate(0 148) scale(0.9760 1)" font-size="82" x="1484.31 1539 1560.65 1609.17" y="0">P 2p</text>
<text transform="translate(0 1879)" font-size="80" x="554.65 605.78 622.15 666.55 711.33 728.7 773.15 817.64 841.98 885.2 927.98 973.44 1001 1047.78 1087.78 1115.83 1146.13 1190.07 1248.93" y="0">Binding energy (eV)</text>
<text transform="translate(96.2 0) rotate(-90) scale(0.8400 1)" font-size="83" x="-1393.22 -1339.67 -1287.12" y="0">XPS</text>
<text transform="translate(96.2 0) rotate(-90)" font-size="80" x="-1010.87 -994.2 -944.93 -918.02 -873.55 -831.57 -792.47 -769.58 -739.82 -699.82 -671.87 -643.6 -599.01 -577.19 -532.81 -505.77" y="0">intensity (a.u.)</text>
</g>
</svg>
</body></html>
